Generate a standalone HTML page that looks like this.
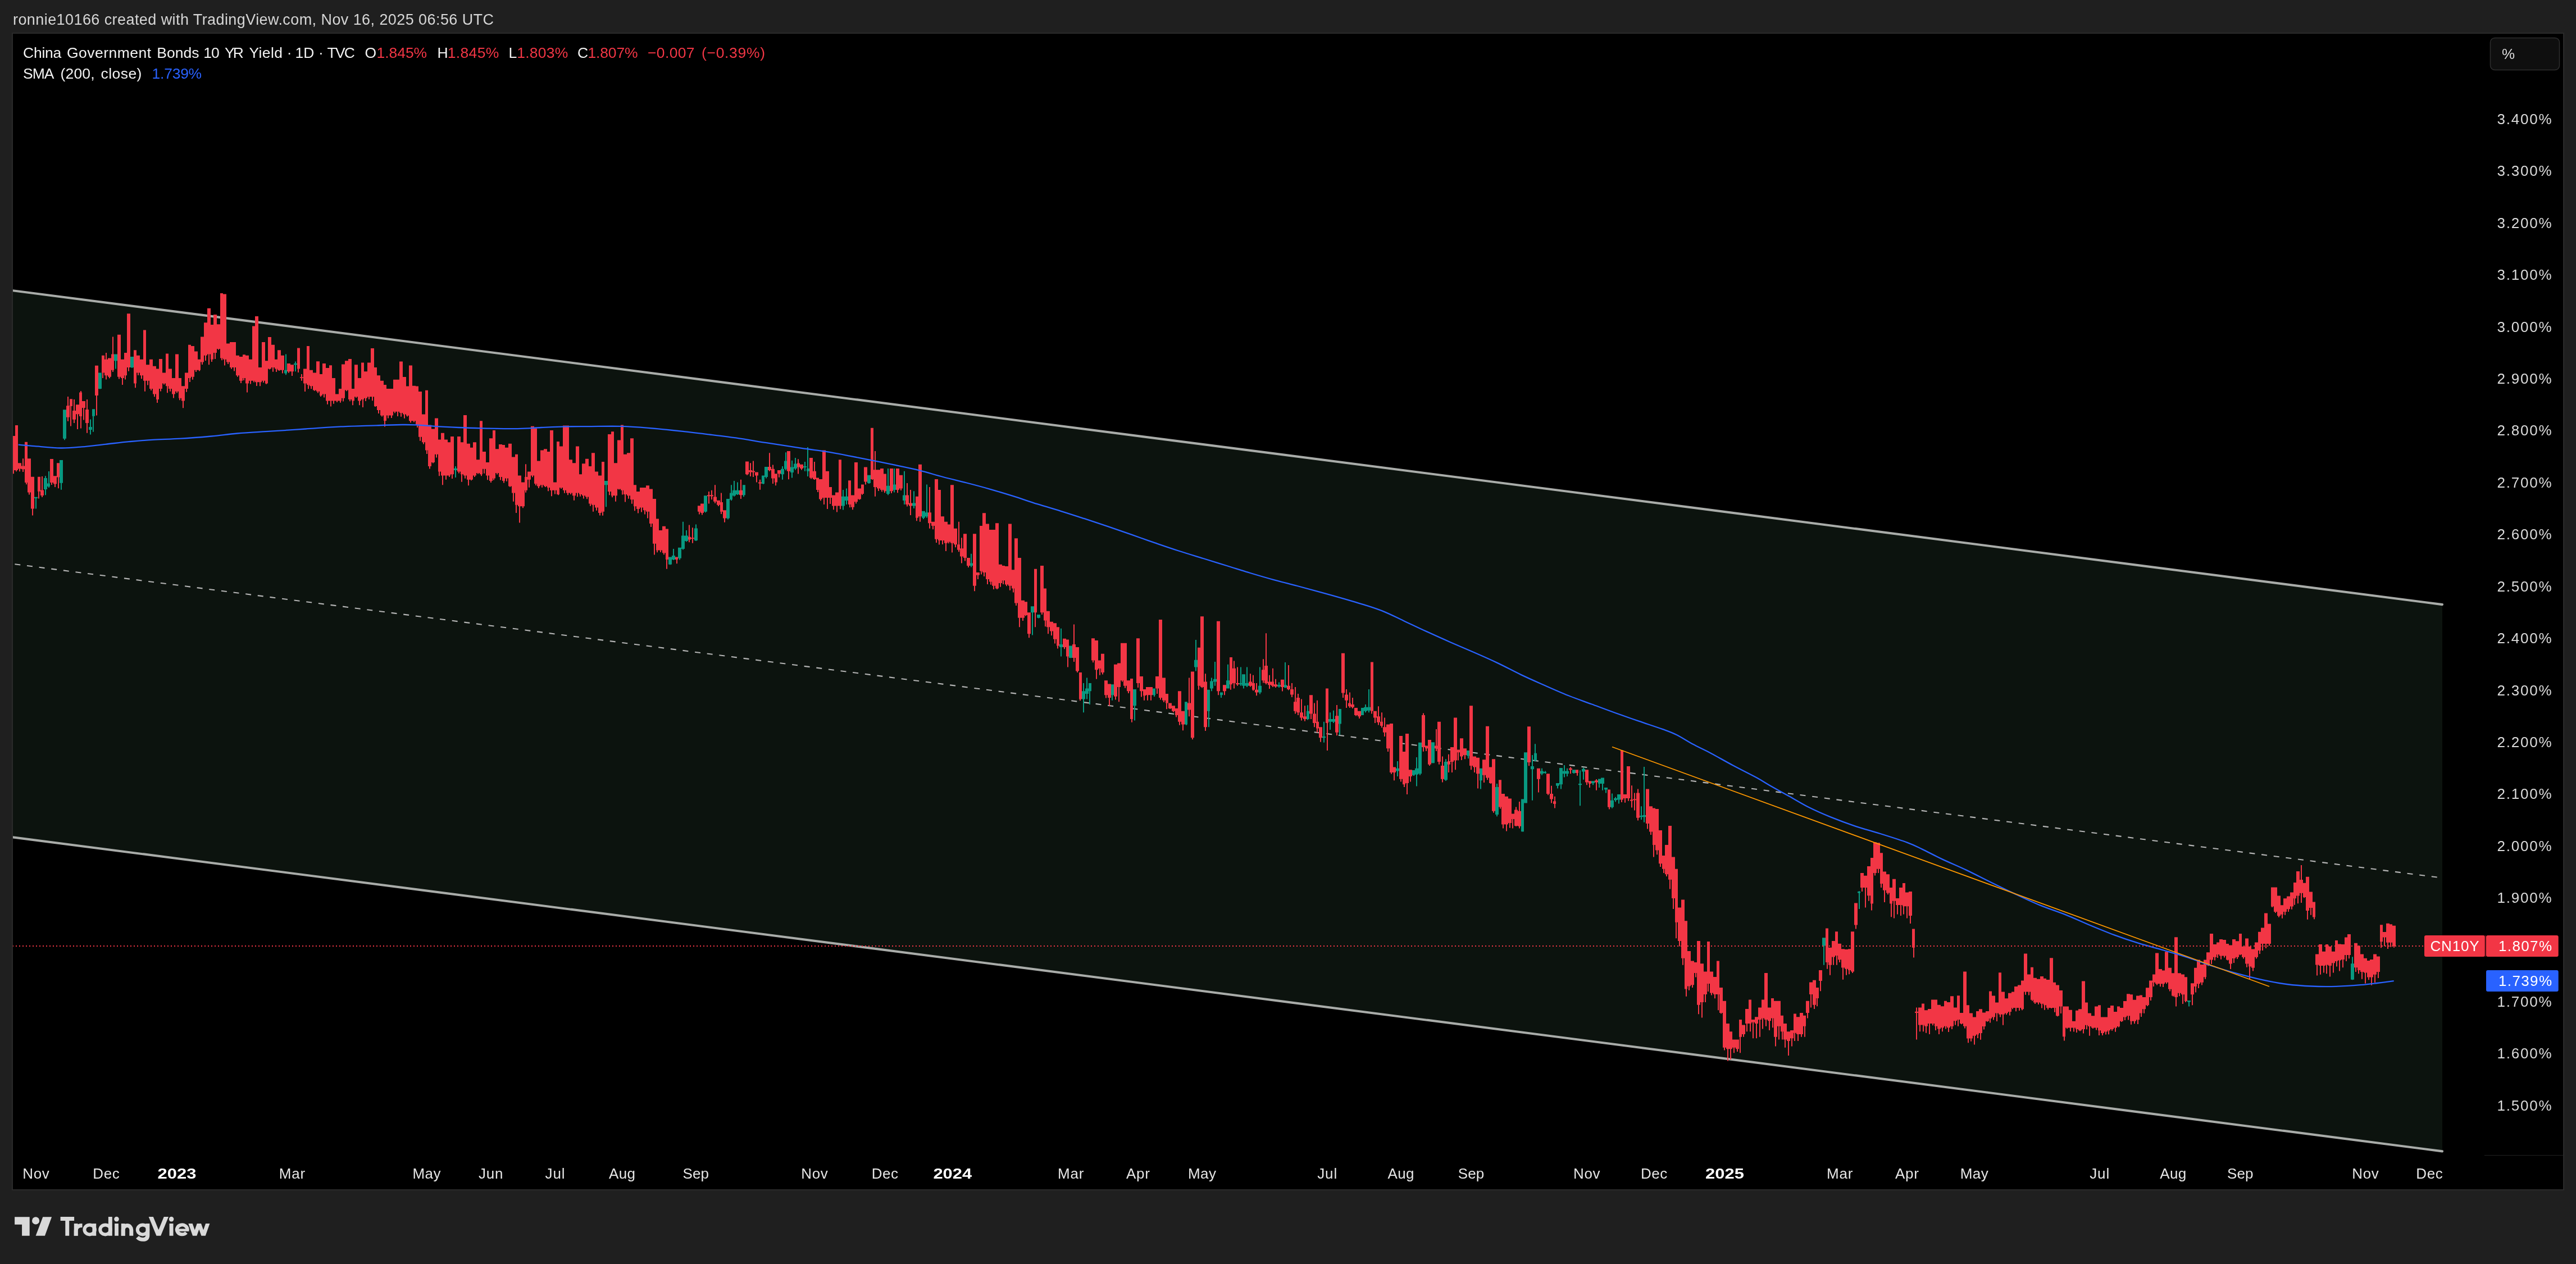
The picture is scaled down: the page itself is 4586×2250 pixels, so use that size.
<!DOCTYPE html>
<html><head><meta charset="utf-8"><title>CN10Y chart</title>
<style>
html,body{margin:0;padding:0;background:#1f1f1f;}
body{width:4586px;height:2250px;position:relative;overflow:hidden;font-family:"Liberation Sans",sans-serif;}
#chart{position:absolute;left:21px;top:58px;width:4540px;height:2057px;background:#000;border:2px solid #2a2a2a;}
</style></head><body>
<div id="chart"></div>
<svg width="4586" height="2250" viewBox="0 0 4586 2250" style="position:absolute;left:0;top:0;will-change:transform"><defs><clipPath id="cc"><rect x="23" y="60" width="4540" height="2057"/></clipPath></defs><g clip-path="url(#cc)"><path d="M22 517.1L4348 1076.1L4348 2049.4L22 1490.2Z" fill="#0c130e"/><path d="M22 517.1L4348 1076.1M22 1490.2L4348 2049.4" stroke="#a9aca9" stroke-width="4.1" stroke-linecap="round" fill="none"/><path d="M22 1003.65L4348 1562.75" stroke="#b4b4b4" stroke-width="2.1" stroke-dasharray="10 11.8" stroke-dashoffset="-4.4" fill="none"/><path d="M23 775.9H27V836.9H23ZM27 757.0H32V836.9H27ZM32 824.2H38V834.5H32ZM38 829.4H44V835.3H38ZM44 786.7H49V859.0H44ZM49 816.3H55V876.4H49ZM55 848.7H61V905.5H55ZM67 848.7H72V874.8H67ZM72 872.5H78V882.0H72ZM89 817.1H95V859.0H89ZM95 847.2H101V861.4H95ZM101 824.2H106V849.5H101ZM118 722.2H124V742.7H118ZM124 710.3H129V722.9H124ZM129 730.9H135V746.7H129ZM135 720.3H141V737.2H135ZM141 698.4H146V741.1H141ZM146 713.9H152V726.1H146ZM152 729.0H158V753.0H152ZM169 650.8H175V703.9H169ZM181 632.7H186V663.6H181ZM186 639.8H192V668.3H186ZM192 637.5H198V670.7H192ZM198 630.4H203V658.8H198ZM209 595.7H215V670.7H209ZM215 639.8H221V673.1H215ZM221 628.0H226V668.3H221ZM226 558.2H232V654.1H226ZM238 623.2H243V682.6H238ZM243 632.7H249V663.6H243ZM249 639.8H255V668.3H249ZM255 587.6H260V677.8H255ZM260 649.3H266V677.8H260ZM266 639.8H272V692.1H266ZM272 651.7H278V701.5H272ZM278 656.5H283V711.0H278ZM283 638.9H289V692.1H283ZM289 663.6H295V682.6H289ZM295 629.4H300V687.3H295ZM300 656.5H306V692.1H300ZM306 673.1H312V701.5H306ZM312 630.4H318V696.8H312ZM318 673.1H323V708.7H318ZM323 687.3H329V713.4H323ZM329 663.6H335V692.1H329ZM335 613.7H340V673.1H335ZM340 616.1H346V670.7H340ZM346 625.6H352V658.8H346ZM352 639.8H357V658.8H352ZM357 599.5H363V644.6H357ZM363 574.3H369V632.7H363ZM369 548.7H375V630.4H369ZM375 578.1H380V639.8H375ZM380 560.1H386V628.0H380ZM386 577.2H392V620.9H386ZM392 522.1H397V637.5H392ZM397 523.6H403V639.8H397ZM403 611.4H409V644.6H403ZM409 609.0H415V654.1H409ZM415 609.0H420V654.1H415ZM420 632.7H426V668.3H420ZM426 635.1H432V677.8H426ZM432 631.3H437V673.1H432ZM437 632.7H443V682.6H437ZM443 639.8H449V677.8H443ZM449 580.5H454V677.8H449ZM454 563.0H460V680.2H454ZM460 654.1H466V680.2H460ZM466 609.0H472V677.8H466ZM472 642.2H477V682.6H472ZM477 600.0H483V656.5H477ZM483 613.7H489V654.1H483ZM489 639.8H494V656.5H489ZM494 623.2H500V658.8H494ZM500 632.7H506V658.8H500ZM511 647.0H517V661.2H511ZM517 649.3H523V661.2H517ZM529 619.4H534V656.5H529ZM534 671.2H540V673.1H534ZM540 656.5H546V682.6H540ZM546 616.1H551V684.9H546ZM551 658.8H557V687.3H551ZM557 663.6H563V694.4H557ZM563 643.2H569V696.8H563ZM569 665.9H574V703.9H569ZM574 647.0H580V701.5H574ZM580 655.0H586V713.4H580ZM586 650.3H591V713.4H586ZM591 673.1H597V713.4H591ZM597 701.5H603V713.4H597ZM603 692.1H608V713.4H603ZM608 648.4H614V708.7H608ZM614 642.2H620V694.4H614ZM620 638.9H626V711.0H620ZM626 692.1H631V713.4H626ZM631 649.3H637V706.3H631ZM637 673.1H643V713.4H637ZM643 645.5H648V711.0H643ZM648 661.2H654V708.7H648ZM654 645.5H660V706.3H654ZM660 619.9H666V706.3H660ZM666 654.1H671V722.9H666ZM671 668.3H677V730.0H671ZM677 677.8H683V739.5H677ZM683 684.9H688V749.0H683ZM688 692.1H694V739.5H688ZM694 692.1H700V739.5H694ZM700 675.8H705V732.7H700ZM705 675.8H711V732.7H705ZM711 643.5H717V735.1H711ZM717 671.0H723V737.5H717ZM723 687.6H728V739.8H723ZM728 650.6H734V749.3H728ZM734 686.7H740V749.3H734ZM740 687.6H745V756.5H740ZM745 697.1H751V777.8H745ZM751 737.5H757V787.3H751ZM757 694.8H762V801.5H757ZM762 756.5H768V830.0H762ZM768 763.6H774V822.9H768ZM774 744.6H780V808.7H774ZM780 782.6H785V839.5H780ZM785 770.7H791V846.6H785ZM791 782.6H797V846.6H791ZM797 787.3H802V846.6H797ZM802 776.9H808V844.3H802ZM814 776.9H820V839.5H814ZM820 787.3H825V844.3H820ZM825 738.9H831V846.6H825ZM831 789.7H837V853.7H831ZM837 796.8H842V853.7H837ZM842 787.3H848V846.6H842ZM848 818.2H854V841.9H848ZM854 749.3H859V844.3H854ZM859 803.9H865V834.8H859ZM865 822.9H871V846.6H865ZM871 780.2H877V856.1H871ZM877 765.9H882V851.4H877ZM882 799.2H888V841.9H882ZM888 791.1H894V849.0H888ZM894 792.1H899V856.1H894ZM899 796.8H905V851.4H899ZM905 789.7H911V865.6H905ZM911 813.4H917V877.5H911ZM917 808.7H922V898.8H917ZM922 846.6H928V901.2H922ZM928 858.5H934V901.2H928ZM934 849.0H939V872.7H934ZM939 839.5H945V853.7H939ZM945 758.8H951V846.6H945ZM951 762.6H956V860.9H951ZM956 820.5H962V865.6H956ZM962 801.5H968V863.2H962ZM968 799.2H974V865.6H968ZM974 803.9H979V868.0H974ZM979 765.9H985V872.7H979ZM985 858.5H991V872.7H985ZM991 785.9H996V879.9H991ZM996 794.4H1002V868.0H996ZM1002 757.4H1008V872.7H1002ZM1008 757.4H1013V877.5H1008ZM1013 818.2H1019V877.5H1013ZM1019 824.3H1025V882.2H1019ZM1025 794.4H1031V877.5H1025ZM1031 844.3H1036V879.9H1031ZM1036 825.3H1042V882.2H1036ZM1042 816.7H1048V884.6H1042ZM1048 830.0H1053V896.5H1048ZM1053 806.3H1059V898.8H1053ZM1059 839.5H1065V903.6H1059ZM1065 846.6H1071V913.1H1065ZM1071 822.0H1076V910.7H1071ZM1082 773.1H1088V875.1H1082ZM1088 768.3H1093V882.2H1088ZM1093 824.3H1099V882.2H1093ZM1099 783.5H1105V870.4H1099ZM1105 756.5H1110V872.7H1105ZM1110 808.7H1116V879.9H1110ZM1116 806.3H1122V882.2H1116ZM1122 780.2H1128V889.3H1122ZM1128 863.2H1133V901.2H1128ZM1133 875.1H1139V906.0H1133ZM1139 868.0H1145V903.6H1139ZM1145 868.0H1150V908.3H1145ZM1150 864.2H1156V910.7H1150ZM1156 870.4H1162V932.1H1156ZM1162 887.9H1168V967.7H1162ZM1168 923.5H1173V979.5H1168ZM1173 943.9H1179V979.5H1173ZM1179 936.8H1185V984.3H1179ZM1185 941.6H1190V996.1H1185ZM1202 991.4H1207V996.1H1202ZM1225 955.8H1230V960.5H1225ZM1230 957.2H1236V959.1H1230ZM1242 900.3H1247V910.7H1242ZM1247 896.5H1253V913.1H1247ZM1259 881.3H1264V883.2H1259ZM1264 881.3H1270V883.2H1264ZM1270 884.6H1276V892.7H1270ZM1276 890.8H1282V898.8H1276ZM1282 894.1H1287V910.7H1282ZM1287 908.3H1293V922.6H1287ZM1316 872.7H1322V881.3H1316ZM1327 821.5H1333V844.3H1327ZM1333 837.1H1339V840.5H1333ZM1339 838.6H1344V840.5H1339ZM1344 840.5H1350V846.6H1344ZM1350 858.5H1356V860.4H1350ZM1367 831.0H1373V837.1H1367ZM1373 834.8H1379V851.4H1373ZM1379 843.3H1384V858.5H1379ZM1384 837.1H1390V843.3H1384ZM1401 803.1H1407V838.7H1401ZM1419 824.4H1424V831.5H1419ZM1424 826.8H1430V833.9H1424ZM1441 814.9H1447V850.5H1441ZM1447 838.7H1453V852.9H1447ZM1453 850.5H1458V871.9H1453ZM1458 852.9H1464V888.5H1458ZM1464 801.6H1470V886.1H1464ZM1470 838.7H1476V886.1H1470ZM1476 867.1H1481V886.1H1476ZM1481 881.4H1487V900.4H1481ZM1487 876.6H1493V900.4H1487ZM1493 818.2H1498V900.4H1493ZM1510 855.3H1515V898.0H1510ZM1515 881.4H1521V902.7H1515ZM1521 823.0H1527V893.2H1521ZM1527 869.5H1533V888.5H1527ZM1533 862.4H1538V879.0H1533ZM1538 831.5H1544V857.6H1538ZM1550 761.8H1555V852.9H1550ZM1555 836.3H1561V867.1H1555ZM1561 836.3H1567V869.5H1561ZM1567 833.9H1573V871.9H1567ZM1573 843.4H1578V874.2H1573ZM1584 833.9H1590V874.2H1584ZM1595 833.9H1601V871.9H1595ZM1601 845.8H1607V869.5H1601ZM1612 881.4H1618V898.0H1612ZM1618 895.6H1624V900.4H1618ZM1630 883.7H1635V921.7H1630ZM1635 826.8H1641V919.3H1635ZM1652 912.2H1658V931.2H1652ZM1658 928.8H1664V935.9H1658ZM1664 852.9H1670V959.7H1664ZM1670 871.9H1675V962.1H1670ZM1675 919.3H1681V962.1H1675ZM1681 928.8H1687V966.8H1681ZM1687 933.6H1692V964.4H1687ZM1692 863.3H1698V966.8H1692ZM1698 940.7H1704V969.2H1698ZM1704 969.2H1709V978.7H1704ZM1709 976.3H1715V990.5H1709ZM1715 950.2H1721V992.9H1715ZM1721 992.9H1727V1007.1H1721ZM1732 950.2H1738V1042.7H1732ZM1738 1019.0H1744V1023.7H1738ZM1744 935.9H1749V1016.6H1744ZM1749 913.2H1755V1019.0H1749ZM1755 932.6H1761V1030.9H1755ZM1761 943.1H1766V1035.6H1761ZM1766 943.1H1772V1042.7H1766ZM1772 931.2H1778V1047.5H1772ZM1778 1004.8H1784V1038.0H1778ZM1784 1007.1H1789V1033.2H1784ZM1789 1008.1H1795V1040.4H1789ZM1795 932.6H1801V1042.7H1795ZM1801 1014.3H1806V1047.5H1801ZM1806 958.3H1812V1073.6H1806ZM1812 992.9H1818V1099.7H1812ZM1818 1068.8H1824V1099.7H1818ZM1824 1071.2H1829V1094.9H1824ZM1829 1090.2H1835V1128.2H1829ZM1841 1012.8H1846V1090.2H1841ZM1852 1007.1H1858V1090.2H1852ZM1858 1047.5H1863V1104.4H1858ZM1863 1087.8H1869V1116.3H1863ZM1869 1106.8H1875V1123.4H1869ZM1875 1109.2H1881V1137.7H1875ZM1881 1116.3H1886V1149.5H1881ZM1892 1136.7H1898V1151.9H1892ZM1898 1138.6H1903V1168.5H1898ZM1909 1147.1H1915V1170.9H1909ZM1915 1151.9H1921V1194.6H1915ZM1921 1197.0H1926V1244.4H1921ZM1943 1136.2H1949V1175.6H1943ZM1949 1140.0H1955V1192.2H1949ZM1955 1175.6H1960V1189.9H1955ZM1960 1163.8H1966V1197.0H1960ZM1966 1211.2H1972V1237.3H1966ZM1972 1217.4H1978V1242.1H1972ZM1983 1182.7H1989V1239.7H1983ZM1989 1180.4H1995V1223.1H1989ZM1995 1144.8H2000V1211.2H1995ZM2000 1144.8H2006V1220.7H2000ZM2006 1211.2H2012V1230.2H2006ZM2012 1207.9H2017V1280.0H2012ZM2023 1136.2H2029V1216.0H2023ZM2029 1204.1H2035V1230.2H2029ZM2035 1226.9H2040V1238.3H2035ZM2040 1223.1H2046V1237.3H2040ZM2046 1223.1H2052V1237.3H2046ZM2057 1204.1H2063V1225.5H2057ZM2063 1103.0H2069V1242.1H2063ZM2069 1206.5H2075V1246.8H2069ZM2075 1235.0H2080V1251.6H2075ZM2080 1251.6H2086V1261.1H2080ZM2086 1256.3H2092V1265.8H2086ZM2092 1261.1H2097V1272.9H2092ZM2097 1230.2H2103V1284.8H2097ZM2103 1265.8H2109V1289.5H2103ZM2114 1251.5H2120V1263.4H2114ZM2120 1195.5H2126V1313.2H2120ZM2132 1152.8H2137V1220.7H2132ZM2137 1097.3H2143V1223.1H2137ZM2143 1213.6H2149V1294.3H2143ZM2166 1105.8H2172V1230.2H2166ZM2177 1219.3H2183V1230.2H2177ZM2189 1169.9H2194V1218.3H2189ZM2194 1189.8H2200V1215.9H2194ZM2200 1215.9H2206V1218.3H2200ZM2223 1213.6H2229V1220.7H2223ZM2229 1215.9H2234V1227.8H2229ZM2234 1227.8H2240V1232.6H2234ZM2246 1192.2H2251V1211.2H2246ZM2251 1185.1H2257V1215.9H2251ZM2257 1213.6H2263V1219.3H2257ZM2263 1213.6H2268V1220.7H2263ZM2268 1218.3H2274V1222.1H2268ZM2280 1209.8H2286V1223.1H2280ZM2291 1220.7H2297V1226.9H2291ZM2297 1226.9H2303V1236.4H2297ZM2303 1249.2H2308V1265.8H2303ZM2308 1242.1H2314V1268.2H2308ZM2314 1268.2H2320V1277.6H2314ZM2320 1275.3H2326V1280.0H2320ZM2331 1237.3H2337V1270.5H2331ZM2337 1270.5H2343V1287.1H2337ZM2343 1284.8H2348V1296.6H2343ZM2348 1294.3H2354V1313.2H2348ZM2360 1225.4H2365V1287.1H2360ZM2377 1274.3H2383V1303.7H2377ZM2388 1162.8H2394V1233.5H2388ZM2394 1236.4H2400V1246.8H2394ZM2400 1251.5H2405V1257.2H2400ZM2405 1253.9H2411V1258.7H2405ZM2411 1260.1H2417V1272.9H2411ZM2417 1265.8H2423V1275.3H2417ZM2440 1178.5H2445V1265.8H2440ZM2445 1265.8H2451V1277.6H2445ZM2451 1275.3H2457V1285.7H2451ZM2457 1284.8H2462V1291.9H2457ZM2462 1294.3H2468V1303.7H2462ZM2468 1289.5H2474V1332.2H2468ZM2474 1288.1H2480V1374.9H2474ZM2480 1365.4H2485V1374.9H2480ZM2491 1309.9H2497V1386.8H2491ZM2497 1337.9H2502V1396.3H2497ZM2502 1306.1H2508V1393.9H2502ZM2508 1370.2H2514V1382.1H2508ZM2531 1272.9H2537V1329.9H2531ZM2537 1327.5H2542V1332.2H2537ZM2542 1317.0H2548V1360.7H2542ZM2554 1327.5H2559V1332.2H2554ZM2559 1284.8H2565V1356.0H2559ZM2565 1363.1H2571V1386.8H2565ZM2577 1355.0H2582V1360.7H2577ZM2582 1329.9H2588V1356.0H2582ZM2588 1277.6H2594V1353.6H2588ZM2594 1334.6H2599V1339.3H2594ZM2599 1314.2H2605V1346.5H2599ZM2605 1332.2H2611V1344.1H2605ZM2616 1256.3H2622V1363.1H2616ZM2622 1346.5H2628V1365.4H2622ZM2628 1348.8H2634V1377.3H2628ZM2639 1352.2H2645V1379.7H2639ZM2645 1292.8H2651V1384.4H2645ZM2651 1365.4H2656V1393.9H2651ZM2656 1351.2H2662V1443.8H2656ZM2668 1388.2H2673V1436.6H2668ZM2673 1412.9H2679V1467.5H2673ZM2679 1417.7H2685V1467.5H2679ZM2685 1421.5H2691V1465.1H2685ZM2691 1448.5H2696V1458.0H2691ZM2696 1441.4H2702V1469.9H2696ZM2702 1443.8H2708V1470.8H2702ZM2719 1293.3H2725V1356.9H2719ZM2736 1367.8H2742V1386.8H2736ZM2753 1377.3H2759V1412.9H2753ZM2759 1412.9H2765V1422.4H2759ZM2765 1426.2H2770V1430.9H2765ZM2793 1367.8H2799V1370.2H2793ZM2805 1370.2H2810V1375.9H2805ZM2822 1370.2H2828V1392.5H2822ZM2828 1390.2H2833V1394.9H2828ZM2839 1389.2H2845V1392.5H2839ZM2862 1405.4H2867V1436.7H2862ZM2885 1335.6H2890V1423.4H2885ZM2890 1413.9H2896V1421.0H2890ZM2896 1364.1H2902V1421.0H2896ZM2902 1423.4H2907V1425.8H2902ZM2907 1422.4H2913V1424.3H2907ZM2913 1411.5H2919V1455.7H2913ZM2930 1404.4H2936V1466.1H2930ZM2936 1435.3H2942V1480.4H2936ZM2942 1438.6H2947V1504.1H2942ZM2947 1440.0H2953V1513.6H2947ZM2953 1478.0H2959V1537.3H2953ZM2959 1523.1H2964V1546.8H2959ZM2964 1504.1H2970V1556.3H2964ZM2970 1469.9H2976V1565.8H2970ZM2976 1525.4H2982V1599.0H2976ZM2982 1546.8H2987V1641.7H2982ZM2987 1615.6H2993V1674.9H2987ZM2993 1601.4H2999V1705.8H2993ZM2999 1639.3H3004V1760.4H2999ZM3004 1693.0H3010V1755.6H3004ZM3010 1710.5H3016V1753.3H3010ZM3016 1712.9H3021V1731.9H3016ZM3021 1674.9H3027V1788.8H3021ZM3027 1715.3H3033V1784.1H3027ZM3033 1729.5H3039V1769.9H3033ZM3039 1675.9H3044V1750.9H3039ZM3044 1729.5H3050V1767.5H3044ZM3050 1739.0H3056V1769.9H3050ZM3056 1710.5H3061V1769.9H3056ZM3061 1758.0H3067V1803.1H3061ZM3067 1781.7H3073V1864.8H3067ZM3073 1822.1H3079V1867.2H3073ZM3079 1836.3H3084V1867.2H3079ZM3084 1850.5H3090V1864.8H3084ZM3090 1850.5H3096V1867.2H3090ZM3096 1815.0H3101V1845.8H3096ZM3101 1824.4H3107V1841.1H3101ZM3107 1796.0H3113V1822.1H3107ZM3113 1779.4H3118V1822.1H3113ZM3118 1815.0H3124V1819.7H3118ZM3124 1810.2H3130V1822.1H3124ZM3130 1793.6H3136V1815.0H3130ZM3136 1779.4H3141V1812.6H3136ZM3141 1731.9H3147V1815.0H3141ZM3147 1793.6H3153V1817.3H3147ZM3153 1777.0H3158V1812.6H3153ZM3158 1781.7H3164V1845.8H3158ZM3164 1781.7H3170V1826.8H3164ZM3170 1807.8H3175V1836.3H3170ZM3175 1822.1H3181V1850.5H3175ZM3181 1836.3H3187V1852.9H3181ZM3187 1833.9H3193V1848.2H3187ZM3193 1804.5H3198V1838.7H3193ZM3198 1810.2H3204V1841.1H3198ZM3204 1803.1H3210V1841.1H3204ZM3210 1807.8H3215V1826.8H3210ZM3215 1781.7H3221V1803.1H3215ZM3221 1748.5H3227V1769.9H3221ZM3227 1744.7H3233V1788.8H3227ZM3233 1758.0H3238V1777.0H3233ZM3238 1727.1H3244V1746.1H3238ZM3250 1652.6H3255V1712.9H3250ZM3255 1686.8H3261V1717.7H3255ZM3261 1674.9H3267V1703.4H3261ZM3267 1658.3H3272V1701.0H3267ZM3272 1679.7H3278V1708.2H3272ZM3278 1689.2H3284V1722.4H3278ZM3284 1690.1H3290V1724.8H3284ZM3290 1689.2H3295V1727.1H3290ZM3295 1658.3H3301V1729.5H3295ZM3301 1607.5H3307V1646.5H3301ZM3312 1553.9H3318V1580.0H3312ZM3318 1558.7H3324V1580.0H3318ZM3324 1542.1H3330V1594.3H3324ZM3330 1526.9H3335V1608.5H3330ZM3335 1499.3H3341V1553.9H3335ZM3341 1500.3H3347V1546.8H3341ZM3347 1518.3H3352V1572.9H3347ZM3352 1551.5H3358V1584.8H3352ZM3358 1556.3H3364V1589.5H3358ZM3364 1580.0H3369V1608.5H3364ZM3369 1564.8H3375V1603.7H3369ZM3375 1599.0H3381V1610.9H3375ZM3381 1580.0H3387V1610.9H3381ZM3387 1572.0H3392V1613.2H3387ZM3392 1588.6H3398V1613.2H3392ZM3398 1587.1H3404V1629.9H3398ZM3404 1653.6H3409V1686.8H3404ZM3409 1800.7H3415V1803.1H3409ZM3415 1793.6H3421V1824.4H3415ZM3421 1786.5H3426V1824.4H3421ZM3426 1798.3H3432V1826.8H3426ZM3432 1796.0H3438V1822.1H3432ZM3438 1779.4H3444V1822.1H3438ZM3444 1779.4H3449V1826.8H3444ZM3449 1788.8H3455V1831.6H3449ZM3455 1791.2H3461V1829.2H3455ZM3461 1781.7H3466V1826.8H3461ZM3466 1784.1H3472V1829.2H3466ZM3472 1773.2H3478V1826.8H3472ZM3478 1793.6H3484V1817.3H3478ZM3484 1772.2H3489V1815.0H3484ZM3489 1803.1H3495V1822.1H3489ZM3495 1729.5H3501V1826.8H3495ZM3501 1789.2H3506V1848.5H3501ZM3506 1803.4H3512V1848.5H3506ZM3512 1810.5H3518V1843.8H3512ZM3518 1800.1H3523V1841.4H3518ZM3523 1796.3H3529V1839.0H3523ZM3529 1802.5H3535V1827.1H3529ZM3535 1800.1H3541V1817.7H3535ZM3541 1764.5H3546V1812.9H3541ZM3546 1772.6H3552V1810.5H3546ZM3552 1784.4H3558V1803.4H3552ZM3558 1731.3H3563V1805.8H3558ZM3563 1765.4H3569V1805.8H3563ZM3569 1777.3H3575V1803.4H3569ZM3575 1767.8H3581V1801.0H3575ZM3581 1765.4H3586V1793.9H3581ZM3586 1756.0H3592V1793.9H3586ZM3592 1753.6H3598V1793.9H3592ZM3598 1745.5H3603V1796.3H3598ZM3603 1697.6H3609V1765.4H3603ZM3609 1734.6H3615V1765.4H3609ZM3615 1721.8H3620V1779.7H3615ZM3620 1740.8H3626V1784.4H3620ZM3626 1742.7H3632V1784.4H3626ZM3632 1737.9H3638V1786.8H3632ZM3638 1741.7H3643V1789.2H3638ZM3643 1744.1H3649V1793.9H3643ZM3649 1705.2H3655V1793.9H3649ZM3655 1748.8H3660V1793.9H3655ZM3660 1753.6H3666V1808.2H3660ZM3666 1763.1H3672V1791.6H3666ZM3672 1791.6H3677V1845.2H3672ZM3677 1791.6H3683V1829.5H3677ZM3683 1797.7H3689V1829.5H3683ZM3689 1817.7H3695V1829.5H3689ZM3695 1798.7H3700V1831.9H3695ZM3700 1796.3H3706V1834.3H3700ZM3706 1746.5H3712V1831.9H3706ZM3712 1784.4H3717V1824.8H3712ZM3717 1803.4H3723V1827.1H3717ZM3723 1808.2H3729V1829.5H3723ZM3729 1791.6H3735V1829.5H3729ZM3735 1789.2H3740V1834.3H3735ZM3740 1810.5H3746V1839.0H3740ZM3746 1810.5H3752V1836.6H3746ZM3752 1793.9H3757V1834.3H3752ZM3757 1790.1H3763V1831.9H3757ZM3763 1801.0H3769V1829.5H3763ZM3769 1791.6H3774V1827.1H3769ZM3774 1793.9H3780V1817.7H3774ZM3780 1782.1H3786V1810.5H3780ZM3786 1769.2H3792V1808.2H3786ZM3792 1770.2H3797V1817.7H3792ZM3797 1779.7H3803V1817.7H3797ZM3803 1772.6H3809V1815.3H3803ZM3809 1771.6H3814V1803.4H3809ZM3814 1774.9H3820V1796.3H3814ZM3820 1758.3H3826V1789.2H3820ZM3826 1745.5H3832V1774.9H3826ZM3832 1734.6H3837V1748.8H3832ZM3837 1696.6H3843V1751.2H3837ZM3843 1725.1H3849V1751.2H3843ZM3849 1727.5H3854V1751.2H3849ZM3854 1694.3H3860V1748.8H3854ZM3860 1722.7H3866V1760.7H3860ZM3866 1732.2H3871V1772.6H3866ZM3871 1668.2H3877V1774.9H3871ZM3877 1732.2H3883V1767.8H3877ZM3883 1734.6H3889V1770.2H3883ZM3889 1739.3H3894V1782.1H3889ZM3900 1750.3H3906V1770.2H3900ZM3906 1722.7H3911V1756.0H3906ZM3911 1708.5H3917V1751.2H3911ZM3917 1717.0H3923V1748.8H3917ZM3923 1708.5H3928V1739.3H3923ZM3928 1695.2H3934V1718.0H3928ZM3934 1662.0H3940V1708.5H3934ZM3940 1681.0H3946V1703.7H3940ZM3946 1677.6H3951V1699.0H3946ZM3951 1672.0H3957V1701.4H3951ZM3957 1672.9H3963V1701.4H3957ZM3963 1680.0H3968V1708.5H3963ZM3968 1682.4H3974V1715.6H3968ZM3974 1672.0H3980V1706.1H3974ZM3980 1675.3H3986V1703.7H3980ZM3986 1662.0H3991V1699.0H3986ZM3991 1684.8H3997V1703.7H3991ZM3997 1670.5H4003V1715.6H3997ZM4003 1684.8H4008V1720.4H4003ZM4008 1689.5H4014V1722.7H4008ZM4014 1677.6H4020V1703.7H4014ZM4020 1658.7H4025V1691.9H4020ZM4025 1651.5H4031V1680.0H4025ZM4031 1625.4H4037V1680.0H4031ZM4037 1644.4H4043V1680.0H4037ZM4043 1579.4H4048V1613.6H4043ZM4048 1579.4H4054V1623.1H4048ZM4054 1594.6H4060V1630.2H4054ZM4060 1611.2H4065V1627.8H4060ZM4065 1599.3H4071V1623.1H4065ZM4071 1595.5H4077V1618.3H4071ZM4077 1588.4H4083V1613.6H4077ZM4083 1570.9H4088V1599.3H4083ZM4088 1550.9H4094V1594.6H4088ZM4094 1566.1H4100V1589.8H4094ZM4100 1571.8H4105V1597.0H4100ZM4105 1560.8H4111V1620.9H4105ZM4111 1587.5H4117V1615.9H4111ZM4117 1605.5H4122V1632.6H4117ZM4122 1698.4H4128V1717.4H4122ZM4128 1681.0H4134V1719.0H4128ZM4134 1693.7H4140V1719.0H4134ZM4140 1681.0H4145V1717.4H4140ZM4145 1684.8H4151V1719.0H4145ZM4151 1693.7H4157V1714.2H4151ZM4157 1674.1H4162V1711.1H4157ZM4162 1680.4H4168V1709.5H4162ZM4168 1681.0H4174V1707.9H4168ZM4174 1668.4H4179V1700.0H4174ZM4179 1663.0H4185V1700.0H4179ZM4191 1678.8H4197V1722.2H4191ZM4197 1683.5H4202V1726.9H4197ZM4202 1698.4H4208V1730.1H4202ZM4208 1705.7H4214V1731.6H4208ZM4214 1710.1H4219V1739.6H4214ZM4219 1707.9H4225V1739.6H4219ZM4225 1698.4H4231V1734.8H4225ZM4231 1702.5H4237V1730.1H4231ZM4237 1646.2H4242V1676.3H4237ZM4242 1658.9H4248V1668.4H4242ZM4248 1643.7H4254V1677.8H4248ZM4254 1645.3H4259V1677.8H4254ZM4259 1647.8H4265V1684.2H4259ZM23 775.9h2V843.2h-2ZM28 757.0h2V839.2h-2ZM34 824.2h2V839.2h-2ZM40 816.3h2V840.0h-2ZM46 786.7h2V862.2h-2ZM51 816.3h2V880.4h-2ZM57 848.7h2V917.6h-2ZM68 848.7h2V887.5h-2ZM74 847.9h2V885.1h-2ZM91 817.1h2V863.0h-2ZM97 847.2h2V866.9h-2ZM103 824.2h2V869.3h-2ZM120 706.0h2V749.8h-2ZM125 710.3h2V758.5h-2ZM131 711.1h2V753.0h-2ZM137 720.3h2V764.1h-2ZM143 696.0h2V762.5h-2ZM148 713.9h2V747.5h-2ZM154 711.1h2V770.8h-2ZM171 650.8h2V739.5h-2ZM182 632.7h2V673.1h-2ZM188 628.0h2V675.4h-2ZM194 637.5h2V673.2h-2ZM200 599.5h2V661.9h-2ZM211 595.7h2V674.6h-2ZM217 639.8h2V684.9h-2ZM222 628.0h2V675.5h-2ZM228 558.2h2V660.8h-2ZM240 623.2h2V690.3h-2ZM245 632.7h2V668.0h-2ZM251 639.8h2V674.2h-2ZM257 587.6h2V696.8h-2ZM262 649.3h2V685.4h-2ZM268 639.8h2V694.9h-2ZM274 651.7h2V706.3h-2ZM279 656.5h2V717.1h-2ZM285 638.9h2V696.5h-2ZM291 663.6h2V684.6h-2ZM297 629.4h2V699.3h-2ZM302 656.5h2V696.8h-2ZM308 673.1h2V708.5h-2ZM314 630.4h2V699.5h-2ZM319 673.1h2V712.3h-2ZM325 687.3h2V726.3h-2ZM331 663.6h2V697.8h-2ZM337 613.7h2V680.0h-2ZM342 616.1h2V675.7h-2ZM348 625.6h2V661.9h-2ZM354 639.8h2V660.5h-2ZM359 599.5h2V649.1h-2ZM365 574.3h2V641.9h-2ZM371 548.7h2V649.3h-2ZM376 578.1h2V644.0h-2ZM382 560.1h2V638.9h-2ZM388 577.2h2V622.4h-2ZM394 522.1h2V641.2h-2ZM399 523.6h2V650.4h-2ZM405 611.4h2V648.1h-2ZM411 609.0h2V656.8h-2ZM416 609.0h2V660.4h-2ZM422 632.7h2V670.7h-2ZM428 635.1h2V682.1h-2ZM433 631.3h2V676.9h-2ZM439 632.7h2V698.4h-2ZM445 639.8h2V683.4h-2ZM451 580.5h2V680.4h-2ZM456 563.0h2V687.1h-2ZM462 654.1h2V687.3h-2ZM468 609.0h2V680.9h-2ZM473 642.2h2V683.7h-2ZM479 600.0h2V657.5h-2ZM485 613.7h2V661.7h-2ZM491 639.8h2V662.0h-2ZM496 623.2h2V659.9h-2ZM502 632.7h2V664.6h-2ZM513 647.0h2V663.7h-2ZM519 649.3h2V668.9h-2ZM530 619.4h2V662.9h-2ZM536 665.9h2V677.8h-2ZM542 656.5h2V697.1h-2ZM548 616.1h2V692.3h-2ZM553 658.8h2V692.3h-2ZM559 663.6h2V695.7h-2ZM565 643.2h2V699.4h-2ZM570 665.9h2V705.9h-2ZM576 647.0h2V707.4h-2ZM582 655.0h2V719.7h-2ZM588 650.3h2V723.5h-2ZM593 673.1h2V718.8h-2ZM599 701.5h2V715.9h-2ZM605 692.1h2V716.8h-2ZM610 648.4h2V714.6h-2ZM616 642.2h2V696.3h-2ZM622 638.9h2V714.3h-2ZM627 692.1h2V721.3h-2ZM633 649.3h2V708.1h-2ZM639 673.1h2V721.2h-2ZM645 645.5h2V725.1h-2ZM650 661.2h2V713.9h-2ZM656 645.5h2V710.8h-2ZM662 619.9h2V713.2h-2ZM667 654.1h2V724.1h-2ZM673 668.3h2V735.9h-2ZM679 677.8h2V741.5h-2ZM684 684.9h2V759.4h-2ZM690 692.1h2V744.6h-2ZM696 692.1h2V743.9h-2ZM702 675.8h2V735.2h-2ZM707 675.8h2V741.0h-2ZM713 643.5h2V741.8h-2ZM719 671.0h2V744.7h-2ZM724 687.6h2V741.5h-2ZM730 650.6h2V752.3h-2ZM736 686.7h2V751.6h-2ZM742 687.6h2V761.0h-2ZM747 697.1h2V784.7h-2ZM753 737.5h2V790.4h-2ZM759 694.8h2V807.9h-2ZM764 756.5h2V834.5h-2ZM770 763.6h2V824.6h-2ZM776 744.6h2V814.5h-2ZM781 782.6h2V847.2h-2ZM787 770.7h2V863.2h-2ZM793 782.6h2V853.7h-2ZM799 787.3h2V849.1h-2ZM804 776.9h2V851.9h-2ZM816 776.9h2V842.5h-2ZM821 787.3h2V857.7h-2ZM827 738.9h2V851.7h-2ZM833 789.7h2V864.2h-2ZM838 796.8h2V855.3h-2ZM844 787.3h2V849.1h-2ZM850 818.2h2V843.7h-2ZM856 749.3h2V847.2h-2ZM861 803.9h2V842.7h-2ZM867 822.9h2V854.2h-2ZM873 780.2h2V858.9h-2ZM878 765.9h2V854.6h-2ZM884 799.2h2V844.5h-2ZM890 791.1h2V854.4h-2ZM896 792.1h2V859.4h-2ZM901 796.8h2V856.7h-2ZM907 789.7h2V866.8h-2ZM913 813.4h2V892.8h-2ZM918 808.7h2V913.1h-2ZM924 846.6h2V930.6h-2ZM930 858.5h2V904.3h-2ZM935 826.2h2V876.7h-2ZM941 839.5h2V867.8h-2ZM947 758.8h2V849.3h-2ZM953 762.6h2V864.1h-2ZM958 820.5h2V869.1h-2ZM964 801.5h2V867.7h-2ZM970 799.2h2V866.9h-2ZM975 803.9h2V874.2h-2ZM981 765.9h2V883.2h-2ZM987 858.5h2V879.5h-2ZM993 785.9h2V881.3h-2ZM998 794.4h2V869.9h-2ZM1004 757.4h2V877.8h-2ZM1010 757.4h2V881.3h-2ZM1015 818.2h2V880.1h-2ZM1021 824.3h2V890.8h-2ZM1027 794.4h2V884.2h-2ZM1032 844.3h2V883.8h-2ZM1038 825.3h2V887.6h-2ZM1044 816.7h2V888.3h-2ZM1050 830.0h2V900.8h-2ZM1055 806.3h2V910.8h-2ZM1061 839.5h2V908.7h-2ZM1067 846.6h2V917.4h-2ZM1072 822.0h2V917.8h-2ZM1084 773.1h2V881.3h-2ZM1089 768.3h2V885.3h-2ZM1095 824.3h2V892.7h-2ZM1101 783.5h2V871.5h-2ZM1107 756.5h2V880.5h-2ZM1112 808.7h2V893.4h-2ZM1118 806.3h2V887.8h-2ZM1124 780.2h2V896.7h-2ZM1129 863.2h2V909.3h-2ZM1135 875.1h2V913.5h-2ZM1141 868.0h2V911.4h-2ZM1147 868.0h2V915.4h-2ZM1152 864.2h2V922.6h-2ZM1158 870.4h2V938.1h-2ZM1164 887.9h2V987.6h-2ZM1169 923.5h2V983.2h-2ZM1175 943.9h2V983.1h-2ZM1181 936.8h2V987.3h-2ZM1186 941.6h2V1012.7h-2ZM1204 991.4h2V1003.2h-2ZM1226 934.4h2V965.3h-2ZM1232 939.2h2V966.7h-2ZM1244 900.3h2V915.4h-2ZM1249 896.5h2V916.4h-2ZM1261 875.1h2V896.5h-2ZM1266 872.7h2V889.3h-2ZM1272 863.2h2V895.8h-2ZM1278 890.8h2V900.9h-2ZM1283 877.5h2V915.0h-2ZM1289 908.3h2V929.7h-2ZM1318 853.7h2V887.9h-2ZM1329 821.5h2V845.8h-2ZM1335 824.3h2V848.1h-2ZM1340 820.5h2V849.0h-2ZM1346 840.5h2V858.5h-2ZM1352 853.7h2V871.8h-2ZM1369 806.3h2V838.8h-2ZM1375 827.6h2V860.9h-2ZM1380 843.3h2V864.2h-2ZM1386 837.1h2V849.8h-2ZM1403 803.1h2V853.2h-2ZM1420 817.3h2V843.4h-2ZM1426 826.8h2V836.4h-2ZM1443 814.9h2V852.4h-2ZM1449 822.0h2V853.9h-2ZM1455 850.5h2V876.0h-2ZM1460 852.9h2V891.2h-2ZM1466 801.6h2V898.0h-2ZM1472 838.7h2V906.0h-2ZM1477 867.1h2V897.0h-2ZM1483 881.4h2V907.2h-2ZM1489 876.6h2V911.6h-2ZM1495 818.2h2V906.2h-2ZM1512 855.3h2V903.2h-2ZM1517 881.4h2V907.2h-2ZM1523 823.0h2V896.4h-2ZM1529 869.5h2V889.6h-2ZM1534 862.4h2V880.7h-2ZM1540 831.5h2V862.6h-2ZM1552 761.8h2V853.9h-2ZM1557 803.1h2V883.7h-2ZM1563 836.3h2V874.1h-2ZM1569 833.9h2V875.3h-2ZM1574 843.4h2V877.3h-2ZM1586 833.9h2V878.1h-2ZM1597 833.9h2V877.3h-2ZM1603 845.8h2V873.1h-2ZM1614 860.0h2V901.4h-2ZM1620 871.9h2V917.0h-2ZM1631 883.7h2V927.3h-2ZM1637 826.8h2V928.8h-2ZM1654 867.1h2V940.7h-2ZM1660 928.8h2V942.3h-2ZM1666 852.9h2V966.0h-2ZM1671 871.9h2V969.4h-2ZM1677 919.3h2V969.1h-2ZM1683 928.8h2V981.0h-2ZM1688 933.6h2V967.2h-2ZM1694 863.3h2V983.4h-2ZM1700 940.7h2V974.2h-2ZM1706 928.8h2V982.2h-2ZM1711 957.3h2V1002.4h-2ZM1717 950.2h2V998.6h-2ZM1723 992.9h2V1009.9h-2ZM1734 950.2h2V1052.2h-2ZM1740 1019.0h2V1030.9h-2ZM1746 935.9h2V1022.6h-2ZM1751 913.2h2V1026.1h-2ZM1757 932.6h2V1039.9h-2ZM1763 943.1h2V1040.7h-2ZM1768 943.1h2V1049.1h-2ZM1774 931.2h2V1048.9h-2ZM1780 1004.8h2V1044.7h-2ZM1785 1007.1h2V1040.0h-2ZM1791 1008.1h2V1043.2h-2ZM1797 932.6h2V1050.7h-2ZM1803 1014.3h2V1054.4h-2ZM1808 958.3h2V1078.1h-2ZM1814 992.9h2V1116.3h-2ZM1820 1068.8h2V1105.1h-2ZM1825 1071.2h2V1096.5h-2ZM1831 1090.2h2V1135.3h-2ZM1842 1012.8h2V1116.3h-2ZM1854 1007.1h2V1093.9h-2ZM1860 1047.5h2V1115.2h-2ZM1865 1087.8h2V1128.2h-2ZM1871 1106.8h2V1131.3h-2ZM1877 1109.2h2V1145.5h-2ZM1882 1116.3h2V1154.4h-2ZM1894 1136.7h2V1155.2h-2ZM1900 1138.6h2V1187.5h-2ZM1911 1111.6h2V1178.1h-2ZM1917 1151.9h2V1196.9h-2ZM1922 1197.0h2V1247.2h-2ZM1945 1136.2h2V1179.2h-2ZM1951 1140.0h2V1208.8h-2ZM1957 1175.6h2V1201.8h-2ZM1962 1163.8h2V1200.4h-2ZM1968 1211.2h2V1242.4h-2ZM1974 1217.4h2V1256.3h-2ZM1985 1182.7h2V1245.4h-2ZM1991 1180.4h2V1249.2h-2ZM1997 1144.8h2V1213.4h-2ZM2002 1144.8h2V1224.8h-2ZM2008 1211.2h2V1234.1h-2ZM2014 1207.9h2V1285.7h-2ZM2025 1136.2h2V1223.9h-2ZM2031 1204.1h2V1240.5h-2ZM2036 1226.9h2V1246.7h-2ZM2042 1223.1h2V1246.8h-2ZM2048 1223.1h2V1246.8h-2ZM2059 1204.1h2V1235.0h-2ZM2065 1103.0h2V1245.5h-2ZM2071 1206.5h2V1250.0h-2ZM2076 1235.0h2V1262.3h-2ZM2082 1251.6h2V1262.1h-2ZM2088 1256.3h2V1267.8h-2ZM2093 1261.1h2V1276.6h-2ZM2099 1230.2h2V1290.7h-2ZM2105 1265.8h2V1300.3h-2ZM2116 1206.5h2V1275.3h-2ZM2122 1195.5h2V1316.2h-2ZM2133 1152.8h2V1227.8h-2ZM2139 1097.3h2V1224.6h-2ZM2145 1199.3h2V1301.1h-2ZM2168 1105.8h2V1237.3h-2ZM2179 1219.3h2V1237.3h-2ZM2190 1169.9h2V1227.8h-2ZM2196 1176.6h2V1225.4h-2ZM2202 1187.5h2V1220.7h-2ZM2225 1199.3h2V1222.4h-2ZM2230 1201.7h2V1229.6h-2ZM2236 1215.9h2V1238.3h-2ZM2248 1173.2h2V1215.4h-2ZM2253 1127.2h2V1218.3h-2ZM2259 1201.7h2V1226.1h-2ZM2265 1189.8h2V1223.1h-2ZM2270 1208.8h2V1224.0h-2ZM2282 1209.8h2V1230.6h-2ZM2293 1184.1h2V1228.4h-2ZM2299 1215.9h2V1241.1h-2ZM2305 1223.1h2V1270.6h-2ZM2310 1234.9h2V1272.9h-2ZM2316 1244.4h2V1282.4h-2ZM2322 1256.3h2V1283.8h-2ZM2333 1237.3h2V1280.0h-2ZM2339 1251.5h2V1294.3h-2ZM2344 1246.8h2V1303.7h-2ZM2350 1294.3h2V1320.7h-2ZM2362 1225.4h2V1336.0h-2ZM2379 1254.9h2V1309.2h-2ZM2390 1162.8h2V1242.1h-2ZM2396 1226.9h2V1260.1h-2ZM2402 1232.6h2V1260.1h-2ZM2407 1242.1h2V1261.0h-2ZM2413 1260.1h2V1274.4h-2ZM2419 1265.8h2V1279.1h-2ZM2441 1178.5h2V1270.6h-2ZM2447 1265.8h2V1287.1h-2ZM2453 1257.2h2V1290.5h-2ZM2459 1268.2h2V1295.2h-2ZM2464 1277.6h2V1311.1h-2ZM2470 1289.5h2V1338.0h-2ZM2476 1288.1h2V1377.8h-2ZM2481 1365.4h2V1389.2h-2ZM2493 1309.9h2V1391.6h-2ZM2499 1337.9h2V1401.0h-2ZM2504 1306.1h2V1413.9h-2ZM2510 1370.2h2V1391.6h-2ZM2533 1269.6h2V1337.7h-2ZM2538 1327.5h2V1337.0h-2ZM2544 1317.0h2V1363.1h-2ZM2556 1298.1h2V1337.0h-2ZM2561 1284.8h2V1360.7h-2ZM2567 1346.5h2V1392.4h-2ZM2578 1342.7h2V1374.9h-2ZM2584 1329.9h2V1374.9h-2ZM2590 1277.6h2V1370.2h-2ZM2595 1334.6h2V1353.6h-2ZM2601 1314.2h2V1352.9h-2ZM2607 1332.2h2V1351.2h-2ZM2618 1256.3h2V1370.2h-2ZM2624 1346.5h2V1374.9h-2ZM2630 1348.8h2V1403.4h-2ZM2641 1352.2h2V1392.9h-2ZM2647 1292.8h2V1388.2h-2ZM2653 1365.4h2V1395.0h-2ZM2658 1351.2h2V1446.8h-2ZM2670 1388.2h2V1439.4h-2ZM2675 1412.9h2V1474.6h-2ZM2681 1417.7h2V1479.4h-2ZM2687 1421.5h2V1473.7h-2ZM2692 1448.5h2V1474.6h-2ZM2698 1436.6h2V1470.9h-2ZM2704 1427.1h2V1474.4h-2ZM2721 1293.3h2V1363.3h-2ZM2738 1367.8h2V1410.5h-2ZM2755 1377.3h2V1415.3h-2ZM2761 1398.7h2V1429.5h-2ZM2767 1417.7h2V1438.4h-2ZM2795 1365.4h2V1377.3h-2ZM2807 1370.2h2V1380.7h-2ZM2824 1370.2h2V1397.3h-2ZM2829 1390.2h2V1402.0h-2ZM2841 1386.9h2V1406.8h-2ZM2864 1405.4h2V1440.4h-2ZM2886 1335.6h2V1428.1h-2ZM2892 1413.9h2V1428.7h-2ZM2898 1364.1h2V1425.8h-2ZM2904 1398.2h2V1437.6h-2ZM2909 1411.5h2V1442.4h-2ZM2915 1404.4h2V1460.5h-2ZM2932 1404.4h2V1475.5h-2ZM2938 1435.3h2V1486.1h-2ZM2943 1438.6h2V1525.4h-2ZM2949 1440.0h2V1521.2h-2ZM2955 1478.0h2V1543.0h-2ZM2961 1523.1h2V1553.9h-2ZM2966 1504.1h2V1560.1h-2ZM2972 1469.9h2V1582.4h-2ZM2978 1525.4h2V1618.0h-2ZM2983 1546.8h2V1670.2h-2ZM2989 1615.6h2V1684.4h-2ZM2995 1601.4h2V1717.7h-2ZM3001 1639.3h2V1773.7h-2ZM3006 1693.0h2V1762.7h-2ZM3012 1710.5h2V1758.0h-2ZM3018 1712.9h2V1739.4h-2ZM3023 1674.9h2V1805.3h-2ZM3029 1715.3h2V1811.6h-2ZM3035 1729.5h2V1784.1h-2ZM3040 1675.9h2V1765.1h-2ZM3046 1729.5h2V1771.6h-2ZM3052 1739.0h2V1777.2h-2ZM3058 1710.5h2V1798.3h-2ZM3063 1758.0h2V1804.6h-2ZM3069 1781.7h2V1869.5h-2ZM3075 1822.1h2V1888.5h-2ZM3080 1836.3h2V1886.1h-2ZM3086 1850.5h2V1874.3h-2ZM3092 1850.5h2V1871.9h-2ZM3097 1815.0h2V1874.3h-2ZM3103 1824.4h2V1845.8h-2ZM3109 1796.0h2V1836.3h-2ZM3115 1779.4h2V1836.3h-2ZM3120 1815.0h2V1848.2h-2ZM3126 1810.2h2V1848.2h-2ZM3132 1793.6h2V1845.8h-2ZM3137 1779.4h2V1831.6h-2ZM3143 1731.9h2V1826.8h-2ZM3149 1793.6h2V1833.9h-2ZM3155 1777.0h2V1829.2h-2ZM3160 1781.7h2V1862.4h-2ZM3166 1781.7h2V1850.5h-2ZM3172 1807.8h2V1850.5h-2ZM3177 1822.1h2V1864.8h-2ZM3183 1836.3h2V1879.0h-2ZM3189 1833.9h2V1862.4h-2ZM3194 1804.5h2V1852.9h-2ZM3200 1810.2h2V1852.9h-2ZM3206 1803.1h2V1845.8h-2ZM3212 1807.8h2V1845.8h-2ZM3217 1781.7h2V1812.6h-2ZM3223 1748.5h2V1793.6h-2ZM3229 1744.7h2V1796.0h-2ZM3234 1758.0h2V1791.2h-2ZM3240 1727.1h2V1764.2h-2ZM3252 1652.6h2V1724.8h-2ZM3257 1686.8h2V1735.7h-2ZM3263 1674.9h2V1717.7h-2ZM3269 1658.3h2V1717.7h-2ZM3274 1679.7h2V1712.9h-2ZM3280 1689.2h2V1743.8h-2ZM3286 1690.1h2V1735.7h-2ZM3291 1689.2h2V1734.3h-2ZM3297 1658.3h2V1731.9h-2ZM3303 1607.5h2V1653.6h-2ZM3314 1553.9h2V1587.1h-2ZM3320 1558.7h2V1615.6h-2ZM3326 1542.1h2V1603.7h-2ZM3331 1526.9h2V1620.4h-2ZM3337 1499.3h2V1558.4h-2ZM3343 1500.3h2V1553.9h-2ZM3348 1518.3h2V1580.0h-2ZM3354 1551.5h2V1606.1h-2ZM3360 1556.3h2V1592.3h-2ZM3366 1580.0h2V1632.2h-2ZM3371 1564.8h2V1634.6h-2ZM3377 1599.0h2V1627.5h-2ZM3383 1580.0h2V1629.9h-2ZM3388 1572.0h2V1627.5h-2ZM3394 1588.6h2V1634.6h-2ZM3400 1587.1h2V1644.1h-2ZM3406 1653.6h2V1704.4h-2ZM3411 1793.6h2V1850.5h-2ZM3417 1793.6h2V1836.3h-2ZM3423 1786.5h2V1836.3h-2ZM3428 1798.3h2V1838.7h-2ZM3434 1796.0h2V1841.1h-2ZM3440 1779.4h2V1825.2h-2ZM3445 1779.4h2V1833.9h-2ZM3451 1788.8h2V1841.1h-2ZM3457 1791.2h2V1836.3h-2ZM3463 1781.7h2V1831.6h-2ZM3468 1784.1h2V1837.1h-2ZM3474 1773.2h2V1831.9h-2ZM3480 1793.6h2V1824.4h-2ZM3485 1772.2h2V1826.8h-2ZM3491 1803.1h2V1823.3h-2ZM3497 1729.5h2V1830.5h-2ZM3503 1789.2h2V1856.2h-2ZM3508 1803.4h2V1853.7h-2ZM3514 1810.5h2V1859.4h-2ZM3520 1800.1h2V1848.0h-2ZM3525 1796.3h2V1850.8h-2ZM3531 1802.5h2V1832.6h-2ZM3537 1800.1h2V1818.8h-2ZM3542 1764.5h2V1820.5h-2ZM3548 1772.6h2V1815.5h-2ZM3554 1784.4h2V1818.0h-2ZM3560 1731.3h2V1810.5h-2ZM3565 1765.4h2V1824.8h-2ZM3571 1777.3h2V1806.2h-2ZM3577 1767.8h2V1807.5h-2ZM3582 1765.4h2V1796.2h-2ZM3588 1756.0h2V1800.2h-2ZM3594 1753.6h2V1799.0h-2ZM3599 1745.5h2V1798.3h-2ZM3605 1697.6h2V1770.7h-2ZM3611 1734.6h2V1771.5h-2ZM3617 1721.8h2V1781.8h-2ZM3622 1740.8h2V1787.1h-2ZM3628 1742.7h2V1788.1h-2ZM3634 1737.9h2V1794.4h-2ZM3639 1741.7h2V1797.7h-2ZM3645 1744.1h2V1797.0h-2ZM3651 1705.2h2V1795.0h-2ZM3657 1748.8h2V1801.8h-2ZM3662 1753.6h2V1809.3h-2ZM3668 1763.1h2V1804.0h-2ZM3674 1791.6h2V1852.4h-2ZM3679 1791.6h2V1831.3h-2ZM3685 1797.7h2V1836.0h-2ZM3691 1817.7h2V1836.4h-2ZM3696 1798.7h2V1838.0h-2ZM3702 1796.3h2V1835.6h-2ZM3708 1746.5h2V1839.5h-2ZM3714 1784.4h2V1832.2h-2ZM3719 1803.4h2V1843.7h-2ZM3725 1808.2h2V1831.0h-2ZM3731 1791.6h2V1833.6h-2ZM3736 1789.2h2V1843.0h-2ZM3742 1810.5h2V1843.1h-2ZM3748 1810.5h2V1841.5h-2ZM3753 1793.9h2V1841.2h-2ZM3759 1790.1h2V1834.7h-2ZM3765 1801.0h2V1836.8h-2ZM3771 1791.6h2V1828.5h-2ZM3776 1793.9h2V1819.1h-2ZM3782 1782.1h2V1815.9h-2ZM3788 1769.2h2V1815.5h-2ZM3793 1770.2h2V1823.8h-2ZM3799 1779.7h2V1822.2h-2ZM3805 1772.6h2V1823.0h-2ZM3811 1771.6h2V1809.9h-2ZM3816 1774.9h2V1803.7h-2ZM3822 1758.3h2V1790.9h-2ZM3828 1745.5h2V1781.0h-2ZM3833 1734.6h2V1755.9h-2ZM3839 1696.6h2V1753.5h-2ZM3845 1725.1h2V1756.3h-2ZM3850 1727.5h2V1756.9h-2ZM3856 1694.3h2V1751.3h-2ZM3862 1722.7h2V1764.6h-2ZM3868 1732.2h2V1773.7h-2ZM3873 1668.2h2V1791.6h-2ZM3879 1732.2h2V1773.2h-2ZM3885 1734.6h2V1787.1h-2ZM3890 1739.3h2V1783.9h-2ZM3902 1750.3h2V1789.2h-2ZM3908 1722.7h2V1766.5h-2ZM3913 1708.5h2V1758.9h-2ZM3919 1717.0h2V1753.5h-2ZM3925 1708.5h2V1742.7h-2ZM3930 1695.2h2V1719.6h-2ZM3936 1662.0h2V1716.0h-2ZM3942 1681.0h2V1709.4h-2ZM3947 1677.6h2V1705.1h-2ZM3953 1672.0h2V1707.8h-2ZM3959 1672.9h2V1704.6h-2ZM3965 1680.0h2V1709.5h-2ZM3970 1682.4h2V1725.1h-2ZM3976 1672.0h2V1714.1h-2ZM3982 1675.3h2V1706.9h-2ZM3987 1662.0h2V1700.2h-2ZM3993 1684.8h2V1706.6h-2ZM3999 1670.5h2V1721.7h-2ZM4004 1684.8h2V1744.1h-2ZM4010 1689.5h2V1728.6h-2ZM4016 1677.6h2V1706.4h-2ZM4022 1658.7h2V1697.9h-2ZM4027 1651.5h2V1692.0h-2ZM4033 1625.4h2V1688.0h-2ZM4039 1644.4h2V1683.4h-2ZM4044 1579.4h2V1615.1h-2ZM4050 1579.4h2V1624.9h-2ZM4056 1594.6h2V1632.8h-2ZM4062 1611.2h2V1634.7h-2ZM4067 1599.3h2V1628.8h-2ZM4073 1595.5h2V1623.1h-2ZM4079 1588.4h2V1618.7h-2ZM4084 1570.9h2V1610.8h-2ZM4090 1550.9h2V1608.3h-2ZM4096 1540.0h2V1607.1h-2ZM4101 1571.8h2V1598.2h-2ZM4107 1560.8h2V1636.7h-2ZM4113 1587.5h2V1628.8h-2ZM4119 1605.5h2V1636.3h-2ZM4124 1698.4h2V1736.4h-2ZM4130 1681.0h2V1734.8h-2ZM4136 1693.7h2V1731.6h-2ZM4141 1681.0h2V1733.2h-2ZM4147 1684.8h2V1738.6h-2ZM4153 1693.7h2V1731.6h-2ZM4159 1674.1h2V1720.6h-2ZM4164 1680.4h2V1728.5h-2ZM4170 1681.0h2V1722.2h-2ZM4176 1668.4h2V1711.1h-2ZM4181 1663.0h2V1706.3h-2ZM4193 1678.8h2V1730.1h-2ZM4198 1683.5h2V1733.2h-2ZM4204 1698.4h2V1742.7h-2ZM4210 1705.7h2V1750.6h-2ZM4216 1710.1h2V1744.3h-2ZM4221 1707.9h2V1753.8h-2ZM4227 1698.4h2V1749.1h-2ZM4233 1702.5h2V1741.1h-2ZM4238 1646.2h2V1687.3h-2ZM4244 1658.9h2V1684.2h-2ZM4250 1643.7h2V1688.9h-2ZM4255 1645.3h2V1685.8h-2ZM4261 1647.8h2V1686.7h-2Z" fill="#f23645"/><path d="M61 884.8H67V887.0H61ZM78 851.1H84V870.9H78ZM84 860.6H89V866.1H84ZM106 819.0H112V859.8H106ZM112 729.3H118V780.7H112ZM158 760.1H164V764.9H158ZM164 728.2H169V740.8H164ZM175 663.6H181V692.1H175ZM203 630.4H209V642.2H203ZM232 635.1H238V654.1H232ZM506 658.8H511V664.5H506ZM523 647.0H529V649.3H523ZM808 833.8H814V837.1H808ZM1076 856.1H1082V863.2H1076ZM1190 991.4H1196V1004.7H1190ZM1196 989.0H1202V996.1H1196ZM1207 974.8H1213V993.8H1207ZM1213 953.4H1219V977.1H1213ZM1219 953.4H1225V962.9H1219ZM1236 940.6H1242V962.0H1236ZM1253 882.2H1259V910.7H1253ZM1293 887.9H1299V922.6H1293ZM1299 877.5H1304V889.3H1299ZM1304 872.7H1310V882.2H1304ZM1310 872.7H1316V879.9H1310ZM1322 863.2H1327V881.3H1322ZM1356 846.6H1361V860.9H1356ZM1361 831.0H1367V849.0H1361ZM1390 834.8H1396V844.3H1390ZM1396 820.5H1401V834.8H1396ZM1407 831.5H1413V841.0H1407ZM1413 825.4H1419V833.9H1413ZM1430 830.1H1436V832.0H1430ZM1436 833.9H1441V838.7H1436ZM1498 883.7H1504V900.4H1498ZM1504 883.7H1510V890.9H1504ZM1544 845.8H1550V860.0H1544ZM1578 864.8H1584V879.0H1578ZM1590 862.4H1595V871.9H1590ZM1607 881.4H1612V890.9H1607ZM1624 895.6H1630V900.4H1624ZM1641 909.8H1647V921.7H1641ZM1647 912.2H1652V919.3H1647ZM1727 1002.4H1732V1007.1H1727ZM1835 1079.3H1841V1090.2H1835ZM1846 1094.0H1852V1099.7H1846ZM1886 1147.1H1892V1151.9H1886ZM1903 1149.5H1909V1170.9H1903ZM1926 1230.2H1932V1244.4H1926ZM1932 1225.5H1938V1235.0H1932ZM1938 1216.0H1943V1230.2H1938ZM1978 1218.3H1983V1237.3H1978ZM2017 1226.9H2023V1256.3H2017ZM2052 1225.5H2057V1237.3H2052ZM2109 1249.2H2114V1289.5H2109ZM2126 1174.7H2132V1187.5H2126ZM2149 1227.8H2154V1265.8H2149ZM2154 1212.6H2160V1225.4H2154ZM2160 1208.8H2166V1213.6H2160ZM2172 1232.6H2177V1237.3H2172ZM2183 1211.2H2189V1225.4H2183ZM2206 1215.9H2211V1218.3H2206ZM2211 1200.3H2217V1220.7H2211ZM2217 1215.9H2223V1220.7H2217ZM2240 1220.7H2246V1232.6H2240ZM2274 1219.3H2280V1222.1H2274ZM2286 1219.3H2291V1224.0H2286ZM2326 1265.8H2331V1280.0H2326ZM2354 1310.9H2360V1313.2H2354ZM2365 1280.0H2371V1284.8H2365ZM2371 1280.0H2377V1284.8H2371ZM2383 1262.0H2388V1288.6H2383ZM2423 1260.1H2428V1272.9H2423ZM2428 1258.7H2434V1265.8H2428ZM2434 1258.7H2440V1264.8H2434ZM2485 1367.8H2491V1372.6H2485ZM2514 1371.1H2519V1379.7H2514ZM2519 1367.8H2525V1378.7H2519ZM2525 1321.8H2531V1377.3H2525ZM2548 1321.3H2554V1358.3H2548ZM2571 1356.0H2577V1388.2H2571ZM2611 1336.0H2616V1345.5H2611ZM2634 1367.8H2639V1389.2H2634ZM2662 1401.0H2668V1449.9H2662ZM2708 1422.4H2713V1480.3H2708ZM2713 1339.3H2719V1429.5H2713ZM2725 1364.0H2731V1369.2H2725ZM2731 1340.8H2736V1353.6H2731ZM2742 1372.6H2748V1377.3H2742ZM2748 1374.0H2753V1375.9H2748ZM2770 1393.9H2776V1398.7H2770ZM2776 1366.9H2782V1396.3H2776ZM2782 1372.6H2788V1377.3H2782ZM2788 1372.6H2793V1377.3H2788ZM2799 1370.2H2805V1375.9H2799ZM2810 1394.9H2816V1397.3H2810ZM2816 1368.8H2822V1373.6H2816ZM2833 1390.2H2839V1394.0H2833ZM2845 1386.4H2850V1394.9H2845ZM2850 1384.5H2856V1394.9H2850ZM2856 1402.0H2862V1405.4H2856ZM2867 1424.8H2873V1436.7H2867ZM2873 1421.0H2879V1424.3H2873ZM2879 1413.9H2885V1423.4H2879ZM2919 1451.9H2924V1454.2H2919ZM2924 1450.9H2930V1454.2H2924ZM3244 1669.2H3250V1683.5H3244ZM3307 1587.1H3312V1589.5H3307ZM3894 1781.1H3900V1783.5H3894ZM4185 1715.2H4191V1743.7H4185ZM63 884.8h2V905.5h-2ZM80 847.2h2V881.2h-2ZM86 838.9h2V868.0h-2ZM108 819.0h2V871.7h-2ZM114 729.3h2V783.3h-2ZM160 746.4h2V773.6h-2ZM165 728.2h2V768.8h-2ZM177 663.6h2V692.4h-2ZM205 630.4h2V656.5h-2ZM234 635.1h2V655.1h-2ZM508 630.4h2V667.2h-2ZM525 643.6h2V661.2h-2ZM810 830.0h2V850.0h-2ZM1078 856.1h2V902.2h-2ZM1192 991.4h2V1005.2h-2ZM1198 977.1h2V997.1h-2ZM1209 974.8h2V996.4h-2ZM1215 928.7h2V978.4h-2ZM1221 943.9h2V964.2h-2ZM1238 933.5h2V963.1h-2ZM1255 882.2h2V912.2h-2ZM1295 887.9h2V924.5h-2ZM1301 863.2h2V890.9h-2ZM1306 856.1h2V883.8h-2ZM1312 858.5h2V880.9h-2ZM1323 863.2h2V884.2h-2ZM1358 846.6h2V861.8h-2ZM1363 831.0h2V851.6h-2ZM1392 830.0h2V853.7h-2ZM1398 805.3h2V837.2h-2ZM1409 819.7h2V850.5h-2ZM1415 814.9h2V836.6h-2ZM1432 822.0h2V838.7h-2ZM1437 795.9h2V848.1h-2ZM1500 871.9h2V907.5h-2ZM1506 869.5h2V898.0h-2ZM1546 845.8h2V860.9h-2ZM1580 833.9h2V881.2h-2ZM1591 833.9h2V876.6h-2ZM1609 838.7h2V898.0h-2ZM1626 874.2h2V905.1h-2ZM1643 909.8h2V924.1h-2ZM1649 862.4h2V921.7h-2ZM1728 985.8h2V1009.5h-2ZM1837 1079.3h2V1130.5h-2ZM1848 1094.0h2V1100.4h-2ZM1888 1118.7h2V1168.5h-2ZM1905 1149.5h2V1171.3h-2ZM1928 1216.0h2V1268.2h-2ZM1934 1206.5h2V1244.4h-2ZM1939 1216.0h2V1253.9h-2ZM1979 1218.3h2V1246.8h-2ZM2019 1226.9h2V1282.4h-2ZM2054 1225.5h2V1240.0h-2ZM2111 1249.2h2V1290.8h-2ZM2128 1139.1h2V1194.6h-2ZM2151 1227.8h2V1294.3h-2ZM2156 1206.5h2V1230.2h-2ZM2162 1178.0h2V1220.7h-2ZM2173 1232.6h2V1242.1h-2ZM2185 1182.7h2V1225.5h-2ZM2208 1187.5h2V1220.7h-2ZM2213 1200.3h2V1225.4h-2ZM2219 1187.5h2V1223.1h-2ZM2242 1187.5h2V1235.4h-2ZM2276 1214.5h2V1224.0h-2ZM2287 1178.9h2V1224.4h-2ZM2327 1255.3h2V1281.5h-2ZM2356 1284.8h2V1321.8h-2ZM2367 1268.2h2V1299.0h-2ZM2373 1264.8h2V1287.1h-2ZM2384 1262.0h2V1308.5h-2ZM2424 1260.1h2V1273.1h-2ZM2430 1253.9h2V1268.2h-2ZM2436 1226.9h2V1268.2h-2ZM2487 1355.0h2V1382.1h-2ZM2516 1371.1h2V1381.1h-2ZM2521 1347.9h2V1399.6h-2ZM2527 1321.8h2V1379.8h-2ZM2550 1321.3h2V1358.5h-2ZM2573 1351.2h2V1390.1h-2ZM2613 1336.0h2V1350.3h-2ZM2635 1367.8h2V1404.4h-2ZM2664 1394.9h2V1453.3h-2ZM2710 1422.4h2V1480.6h-2ZM2715 1339.3h2V1429.6h-2ZM2727 1344.1h2V1424.8h-2ZM2732 1324.2h2V1355.5h-2ZM2744 1367.8h2V1379.7h-2ZM2750 1372.6h2V1377.3h-2ZM2772 1393.9h2V1403.4h-2ZM2778 1366.9h2V1404.4h-2ZM2784 1362.1h2V1383.5h-2ZM2789 1367.8h2V1382.1h-2ZM2801 1370.2h2V1377.0h-2ZM2812 1371.2h2V1434.3h-2ZM2818 1366.4h2V1387.8h-2ZM2835 1390.2h2V1397.3h-2ZM2846 1386.4h2V1402.0h-2ZM2852 1384.5h2V1406.8h-2ZM2858 1402.0h2V1411.5h-2ZM2869 1412.5h2V1438.8h-2ZM2875 1418.7h2V1427.2h-2ZM2881 1413.9h2V1430.5h-2ZM2921 1435.3h2V1459.0h-2ZM2926 1365.0h2V1463.7h-2ZM3246 1669.2h2V1717.7h-2ZM3309 1586.2h2V1618.0h-2ZM3896 1781.1h2V1791.6h-2ZM4187 1703.2h2V1744.2h-2Z" fill="#089981"/><path d="M32.6 791.6C37.5 792.0 49.3 793.2 61.9 794.2C74.5 795.2 94.0 797.3 108.0 797.5C122.0 797.7 132.5 796.5 145.8 795.4C159.1 794.3 173.7 792.3 187.7 790.8C201.7 789.3 215.6 787.5 229.6 786.2C243.6 784.9 256.2 783.7 271.6 782.8C287.0 781.9 304.4 781.8 321.9 780.7C339.4 779.7 359.6 778.0 376.4 776.5C393.2 775.0 405.0 773.0 422.5 771.5C440.0 770.0 460.9 769.0 481.2 767.7C501.5 766.4 523.1 764.9 544.1 763.5C565.1 762.1 586.0 760.4 607.0 759.4C628.0 758.4 651.7 757.9 669.9 757.3C688.1 756.7 704.1 756.1 716.0 756.0C727.9 755.9 731.4 755.9 741.2 756.4C751.0 756.9 762.1 758.1 774.7 758.9C787.3 759.7 802.6 760.4 816.6 761.0C830.6 761.6 841.1 761.9 858.6 762.3C876.1 762.6 904.0 763.3 921.5 763.1C939.0 762.9 949.4 761.6 963.4 761.0C977.4 760.4 990.9 759.7 1005.3 759.4C1019.7 759.1 1033.5 759.2 1050.0 759.1C1066.5 759.0 1087.0 758.5 1104.5 758.9C1122.0 759.3 1135.9 760.3 1154.8 761.8C1173.7 763.3 1200.2 766.2 1217.7 768.1C1235.2 770.0 1244.2 771.2 1259.6 773.1C1275.0 775.0 1292.5 776.9 1310.0 779.4C1327.5 781.9 1344.9 785.1 1364.5 788.2C1384.1 791.3 1409.9 795.3 1427.4 797.9C1444.9 800.5 1455.3 801.5 1469.3 803.7C1483.3 805.9 1497.2 808.6 1511.2 811.3C1525.2 814.0 1539.1 816.9 1553.1 819.7C1567.1 822.5 1581.1 825.2 1595.1 828.1C1609.1 831.0 1623.0 833.8 1637.0 837.3C1651.0 840.8 1664.9 845.3 1678.9 849.0C1692.9 852.7 1706.9 855.9 1720.9 859.5C1734.9 863.1 1748.8 866.8 1762.8 870.8C1776.8 874.8 1790.7 879.0 1804.7 883.4C1818.7 887.8 1832.6 892.8 1846.6 897.2C1860.6 901.6 1874.6 905.5 1888.6 909.8C1902.6 914.1 1916.5 918.7 1930.5 923.2C1944.5 927.8 1958.4 932.4 1972.4 937.1C1986.4 941.9 2000.4 946.8 2014.4 951.7C2028.4 956.6 2042.3 961.6 2056.3 966.4C2070.3 971.2 2083.9 975.9 2098.2 980.5C2112.5 985.1 2127.6 989.6 2141.9 994.0C2156.2 998.4 2169.9 1002.7 2183.9 1007.0C2197.9 1011.3 2211.8 1015.8 2225.8 1020.0C2239.8 1024.2 2253.7 1028.3 2267.7 1032.1C2281.7 1035.9 2295.6 1039.3 2309.6 1043.0C2323.6 1046.7 2337.6 1050.5 2351.6 1054.3C2365.6 1058.1 2379.5 1062.0 2393.5 1066.1C2407.5 1070.2 2423.5 1074.9 2435.4 1078.7C2447.3 1082.5 2454.3 1084.8 2464.8 1089.1C2475.3 1093.4 2485.7 1098.8 2498.3 1104.7C2510.9 1110.6 2526.3 1118.0 2540.3 1124.4C2554.3 1130.8 2568.2 1137.1 2582.2 1143.2C2596.2 1149.3 2610.1 1155.2 2624.1 1161.3C2638.1 1167.4 2652.0 1173.5 2666.0 1180.1C2680.0 1186.7 2694.0 1194.4 2708.0 1201.1C2722.0 1207.8 2735.9 1213.8 2749.9 1220.0C2763.9 1226.2 2777.8 1232.4 2791.8 1238.0C2805.8 1243.6 2819.8 1248.3 2833.8 1253.5C2847.8 1258.7 2861.7 1264.0 2875.7 1269.0C2889.7 1274.0 2903.6 1278.9 2917.6 1283.7C2931.6 1288.5 2948.3 1293.9 2959.5 1297.9C2970.7 1302.0 2975.6 1303.5 2984.7 1308.0C2993.8 1312.5 3004.2 1319.5 3014.0 1324.8C3023.8 1330.0 3031.5 1333.2 3043.4 1339.5C3055.3 1345.8 3071.3 1355.0 3085.3 1362.5C3099.3 1370.0 3116.5 1378.4 3127.3 1384.3C3138.1 1390.2 3140.4 1392.2 3150.0 1397.7C3159.6 1403.2 3173.4 1410.8 3185.1 1417.3C3196.8 1423.8 3207.8 1430.8 3220.2 1437.0C3232.6 1443.2 3245.8 1449.0 3259.7 1454.6C3273.6 1460.2 3288.9 1465.9 3303.5 1470.8C3318.1 1475.7 3332.0 1479.2 3347.4 1484.0C3362.8 1488.8 3383.3 1495.2 3395.7 1499.8C3408.1 1504.4 3411.8 1506.7 3422.0 1511.6C3432.2 1516.5 3443.9 1522.9 3457.1 1529.1C3470.2 1535.3 3486.3 1542.0 3500.9 1548.9C3515.5 1555.9 3530.2 1563.6 3544.8 1570.8C3559.4 1578.0 3574.1 1585.1 3588.7 1591.9C3603.3 1598.7 3617.9 1605.6 3632.5 1611.6C3647.1 1617.6 3661.8 1622.1 3676.4 1627.9C3691.0 1633.8 3705.7 1640.6 3720.3 1646.7C3734.9 1652.8 3749.5 1658.9 3764.1 1664.3C3778.7 1669.7 3793.4 1674.7 3808.0 1679.2C3822.6 1683.7 3837.3 1687.3 3851.9 1691.5C3866.5 1695.7 3881.1 1699.8 3895.7 1704.6C3910.3 1709.3 3925.0 1715.2 3939.6 1720.0C3954.2 1724.8 3968.9 1729.1 3983.5 1733.1C3998.1 1737.1 4012.8 1740.9 4027.4 1744.1C4042.0 1747.2 4056.6 1750.1 4071.2 1752.0C4085.8 1753.9 4100.5 1754.9 4115.1 1755.5C4129.7 1756.1 4144.4 1756.2 4159.0 1755.8C4173.6 1755.4 4190.6 1754.2 4202.8 1753.2C4215.0 1752.2 4222.2 1751.2 4232.0 1750.0C4241.8 1748.8 4256.8 1746.8 4261.7 1746.2" stroke="#2962ff" stroke-width="2.3" fill="none" stroke-linejoin="round"/><path d="M2870 1329.5L4040 1756" stroke="#ff9800" stroke-width="1.8" fill="none"/><path d="M22 1684H4316" stroke="#f23645" stroke-width="2" stroke-dasharray="2 4" fill="none"/></g><path d="M4423 2056.5H4563" stroke="#222222" stroke-width="1"/><text x="23" y="44.3" font-size="27" fill="#d6d6d6" font-family="Liberation Sans, sans-serif" textLength="856" lengthAdjust="spacing">ronnie10166 created with TradingView.com, Nov 16, 2025 06:56 UTC</text><text x="41.1" y="102.8" font-size="26.5" fill="#f2f2f2" font-family="Liberation Sans, sans-serif" textLength="68.1" lengthAdjust="spacing">China</text><text x="119" y="102.8" font-size="26.5" fill="#f2f2f2" font-family="Liberation Sans, sans-serif" textLength="150" lengthAdjust="spacing">Government</text><text x="279.3" y="102.8" font-size="26.5" fill="#f2f2f2" font-family="Liberation Sans, sans-serif" textLength="75.1" lengthAdjust="spacing">Bonds</text><text x="362.3" y="102.8" font-size="26.5" fill="#f2f2f2" font-family="Liberation Sans, sans-serif" textLength="28.5" lengthAdjust="spacing">10</text><text x="400" y="102.8" font-size="26.5" fill="#f2f2f2" font-family="Liberation Sans, sans-serif" textLength="34" lengthAdjust="spacing">YR</text><text x="443.5" y="102.8" font-size="26.5" fill="#f2f2f2" font-family="Liberation Sans, sans-serif" textLength="59.5" lengthAdjust="spacing">Yield</text><text x="515.1" y="102.8" font-size="26.5" fill="#f2f2f2" font-family="Liberation Sans, sans-serif" text-anchor="middle">·</text><text x="542.5" y="102.8" font-size="26.5" fill="#f2f2f2" font-family="Liberation Sans, sans-serif" text-anchor="middle">1D</text><text x="571.5" y="102.8" font-size="26.5" fill="#f2f2f2" font-family="Liberation Sans, sans-serif" text-anchor="middle">·</text><text x="582.5" y="102.8" font-size="26.5" fill="#f2f2f2" font-family="Liberation Sans, sans-serif" textLength="49.5" lengthAdjust="spacing">TVC</text><text x="649.6" y="102.8" font-size="26.5" fill="#f2f2f2" font-family="Liberation Sans, sans-serif" textLength="18.3" lengthAdjust="spacing">O</text><text x="670.6" y="102.8" font-size="26.5" fill="#f23645" font-family="Liberation Sans, sans-serif" textLength="89.6" lengthAdjust="spacing">1.845%</text><text x="778.5" y="102.8" font-size="26.5" fill="#f2f2f2" font-family="Liberation Sans, sans-serif" textLength="16.7" lengthAdjust="spacing">H</text><text x="796.7" y="102.8" font-size="26.5" fill="#f23645" font-family="Liberation Sans, sans-serif" textLength="91.7" lengthAdjust="spacing">1.845%</text><text x="905.4" y="102.8" font-size="26.5" fill="#f2f2f2" font-family="Liberation Sans, sans-serif" textLength="12.8" lengthAdjust="spacing">L</text><text x="920.2" y="102.8" font-size="26.5" fill="#f23645" font-family="Liberation Sans, sans-serif" textLength="91.2" lengthAdjust="spacing">1.803%</text><text x="1028" y="102.8" font-size="26.5" fill="#f2f2f2" font-family="Liberation Sans, sans-serif" textLength="16.4" lengthAdjust="spacing">C</text><text x="1046.4" y="102.8" font-size="26.5" fill="#f23645" font-family="Liberation Sans, sans-serif" textLength="89.2" lengthAdjust="spacing">1.807%</text><text x="1153" y="102.8" font-size="26.5" fill="#f23645" font-family="Liberation Sans, sans-serif" textLength="83.6" lengthAdjust="spacing">−0.007</text><text x="1249" y="102.8" font-size="26.5" fill="#f23645" font-family="Liberation Sans, sans-serif" textLength="113" lengthAdjust="spacing">(−0.39%)</text><text x="41.1" y="140" font-size="26.5" fill="#f2f2f2" font-family="Liberation Sans, sans-serif" textLength="55.4" lengthAdjust="spacing">SMA</text><text x="107.6" y="140" font-size="26.5" fill="#f2f2f2" font-family="Liberation Sans, sans-serif" textLength="60.9" lengthAdjust="spacing">(200,</text><text x="179.6" y="140" font-size="26.5" fill="#f2f2f2" font-family="Liberation Sans, sans-serif" textLength="72.8" lengthAdjust="spacing">close)</text><text x="270.6" y="140" font-size="26.5" fill="#2962ff" font-family="Liberation Sans, sans-serif" textLength="88.6" lengthAdjust="spacing">1.739%</text><rect x="4433.5" y="67.5" width="123" height="57" rx="8" fill="#0f0f0f" stroke="#2e2e2e" stroke-width="1.5"/><text x="4454" y="105" font-size="26" fill="#dbdbdb" font-family="Liberation Sans, sans-serif">%</text><text x="4445.5" y="221.0" font-size="26" fill="#dbdbdb" font-family="Liberation Sans, sans-serif" textLength="97" lengthAdjust="spacing">3.400%</text><text x="4445.5" y="313.4100000000001" font-size="26" fill="#dbdbdb" font-family="Liberation Sans, sans-serif" textLength="97" lengthAdjust="spacing">3.300%</text><text x="4445.5" y="405.81999999999977" font-size="26" fill="#dbdbdb" font-family="Liberation Sans, sans-serif" textLength="97" lengthAdjust="spacing">3.200%</text><text x="4445.5" y="498.22999999999985" font-size="26" fill="#dbdbdb" font-family="Liberation Sans, sans-serif" textLength="97" lengthAdjust="spacing">3.100%</text><text x="4445.5" y="590.6399999999999" font-size="26" fill="#dbdbdb" font-family="Liberation Sans, sans-serif" textLength="97" lengthAdjust="spacing">3.000%</text><text x="4445.5" y="683.05" font-size="26" fill="#dbdbdb" font-family="Liberation Sans, sans-serif" textLength="97" lengthAdjust="spacing">2.900%</text><text x="4445.5" y="775.46" font-size="26" fill="#dbdbdb" font-family="Liberation Sans, sans-serif" textLength="97" lengthAdjust="spacing">2.800%</text><text x="4445.5" y="867.8699999999997" font-size="26" fill="#dbdbdb" font-family="Liberation Sans, sans-serif" textLength="97" lengthAdjust="spacing">2.700%</text><text x="4445.5" y="960.2799999999997" font-size="26" fill="#dbdbdb" font-family="Liberation Sans, sans-serif" textLength="97" lengthAdjust="spacing">2.600%</text><text x="4445.5" y="1052.6899999999998" font-size="26" fill="#dbdbdb" font-family="Liberation Sans, sans-serif" textLength="97" lengthAdjust="spacing">2.500%</text><text x="4445.5" y="1145.1" font-size="26" fill="#dbdbdb" font-family="Liberation Sans, sans-serif" textLength="97" lengthAdjust="spacing">2.400%</text><text x="4445.5" y="1237.51" font-size="26" fill="#dbdbdb" font-family="Liberation Sans, sans-serif" textLength="97" lengthAdjust="spacing">2.300%</text><text x="4445.5" y="1329.9199999999998" font-size="26" fill="#dbdbdb" font-family="Liberation Sans, sans-serif" textLength="97" lengthAdjust="spacing">2.200%</text><text x="4445.5" y="1422.33" font-size="26" fill="#dbdbdb" font-family="Liberation Sans, sans-serif" textLength="97" lengthAdjust="spacing">2.100%</text><text x="4445.5" y="1514.74" font-size="26" fill="#dbdbdb" font-family="Liberation Sans, sans-serif" textLength="97" lengthAdjust="spacing">2.000%</text><text x="4445.5" y="1607.15" font-size="26" fill="#dbdbdb" font-family="Liberation Sans, sans-serif" textLength="97" lengthAdjust="spacing">1.900%</text><text x="4445.5" y="1699.56" font-size="26" fill="#dbdbdb" font-family="Liberation Sans, sans-serif" textLength="97" lengthAdjust="spacing">1.800%</text><text x="4445.5" y="1791.97" font-size="26" fill="#dbdbdb" font-family="Liberation Sans, sans-serif" textLength="97" lengthAdjust="spacing">1.700%</text><text x="4445.5" y="1884.3799999999999" font-size="26" fill="#dbdbdb" font-family="Liberation Sans, sans-serif" textLength="97" lengthAdjust="spacing">1.600%</text><text x="4445.5" y="1976.79" font-size="26" fill="#dbdbdb" font-family="Liberation Sans, sans-serif" textLength="97" lengthAdjust="spacing">1.500%</text><rect x="4316" y="1665" width="108" height="38" rx="3" fill="#f23645"/><rect x="4426" y="1665" width="128.7" height="38" rx="3" fill="#f23645"/><rect x="4423.6" y="1665" width="2.2" height="38" fill="#5a1018"/><text x="4326.5" y="1693.3" font-size="26" fill="#ffffff" font-family="Liberation Sans, sans-serif" textLength="87" lengthAdjust="spacing">CN10Y</text><text x="4448" y="1693.3" font-size="26" fill="#ffffff" font-family="Liberation Sans, sans-serif" textLength="95" lengthAdjust="spacing">1.807%</text><rect x="4426" y="1727" width="128.7" height="38" rx="3" fill="#2962ff"/><text x="4448" y="1755.3" font-size="26" fill="#ffffff" font-family="Liberation Sans, sans-serif" textLength="95" lengthAdjust="spacing">1.739%</text><text x="40.25" y="2098.4" font-size="26" fill="#e6e6e6" font-family="Liberation Sans, sans-serif" textLength="47.5" lengthAdjust="spacing">Nov</text><text x="165.35" y="2098.4" font-size="26" fill="#e6e6e6" font-family="Liberation Sans, sans-serif" textLength="47.3" lengthAdjust="spacing">Dec</text><text x="280.6" y="2098.4" font-size="26" fill="#ffffff" font-family="Liberation Sans, sans-serif" font-weight="bold" textLength="68.8" lengthAdjust="spacingAndGlyphs">2023</text><text x="496.8" y="2098.4" font-size="26" fill="#e6e6e6" font-family="Liberation Sans, sans-serif" textLength="46.4" lengthAdjust="spacing">Mar</text><text x="734.5" y="2098.4" font-size="26" fill="#e6e6e6" font-family="Liberation Sans, sans-serif" textLength="50" lengthAdjust="spacing">May</text><text x="851.9000000000001" y="2098.4" font-size="26" fill="#e6e6e6" font-family="Liberation Sans, sans-serif" textLength="43.6" lengthAdjust="spacing">Jun</text><text x="970.5" y="2098.4" font-size="26" fill="#e6e6e6" font-family="Liberation Sans, sans-serif" textLength="35" lengthAdjust="spacing">Jul</text><text x="1084.0" y="2098.4" font-size="26" fill="#e6e6e6" font-family="Liberation Sans, sans-serif" textLength="47" lengthAdjust="spacing">Aug</text><text x="1215.4" y="2098.4" font-size="26" fill="#e6e6e6" font-family="Liberation Sans, sans-serif" textLength="46.6" lengthAdjust="spacing">Sep</text><text x="1426.25" y="2098.4" font-size="26" fill="#e6e6e6" font-family="Liberation Sans, sans-serif" textLength="47.5" lengthAdjust="spacing">Nov</text><text x="1551.6499999999999" y="2098.4" font-size="26" fill="#e6e6e6" font-family="Liberation Sans, sans-serif" textLength="47.3" lengthAdjust="spacing">Dec</text><text x="1661.3999999999999" y="2098.4" font-size="26" fill="#ffffff" font-family="Liberation Sans, sans-serif" font-weight="bold" textLength="68.8" lengthAdjust="spacingAndGlyphs">2024</text><text x="1883.0" y="2098.4" font-size="26" fill="#e6e6e6" font-family="Liberation Sans, sans-serif" textLength="46.4" lengthAdjust="spacing">Mar</text><text x="2005.0" y="2098.4" font-size="26" fill="#e6e6e6" font-family="Liberation Sans, sans-serif" textLength="42" lengthAdjust="spacing">Apr</text><text x="2115.0" y="2098.4" font-size="26" fill="#e6e6e6" font-family="Liberation Sans, sans-serif" textLength="50" lengthAdjust="spacing">May</text><text x="2345.2" y="2098.4" font-size="26" fill="#e6e6e6" font-family="Liberation Sans, sans-serif" textLength="35" lengthAdjust="spacing">Jul</text><text x="2470.5" y="2098.4" font-size="26" fill="#e6e6e6" font-family="Liberation Sans, sans-serif" textLength="47" lengthAdjust="spacing">Aug</text><text x="2595.7" y="2098.4" font-size="26" fill="#e6e6e6" font-family="Liberation Sans, sans-serif" textLength="46.6" lengthAdjust="spacing">Sep</text><text x="2801.05" y="2098.4" font-size="26" fill="#e6e6e6" font-family="Liberation Sans, sans-serif" textLength="47.5" lengthAdjust="spacing">Nov</text><text x="2921.0499999999997" y="2098.4" font-size="26" fill="#e6e6e6" font-family="Liberation Sans, sans-serif" textLength="47.3" lengthAdjust="spacing">Dec</text><text x="3036.1" y="2098.4" font-size="26" fill="#ffffff" font-family="Liberation Sans, sans-serif" font-weight="bold" textLength="68.8" lengthAdjust="spacingAndGlyphs">2025</text><text x="3252.1000000000004" y="2098.4" font-size="26" fill="#e6e6e6" font-family="Liberation Sans, sans-serif" textLength="46.4" lengthAdjust="spacing">Mar</text><text x="3374.0" y="2098.4" font-size="26" fill="#e6e6e6" font-family="Liberation Sans, sans-serif" textLength="42" lengthAdjust="spacing">Apr</text><text x="3489.7" y="2098.4" font-size="26" fill="#e6e6e6" font-family="Liberation Sans, sans-serif" textLength="50" lengthAdjust="spacing">May</text><text x="3720.2" y="2098.4" font-size="26" fill="#e6e6e6" font-family="Liberation Sans, sans-serif" textLength="35" lengthAdjust="spacing">Jul</text><text x="3845.2" y="2098.4" font-size="26" fill="#e6e6e6" font-family="Liberation Sans, sans-serif" textLength="47" lengthAdjust="spacing">Aug</text><text x="3964.8999999999996" y="2098.4" font-size="26" fill="#e6e6e6" font-family="Liberation Sans, sans-serif" textLength="46.6" lengthAdjust="spacing">Sep</text><text x="4187.25" y="2098.4" font-size="26" fill="#e6e6e6" font-family="Liberation Sans, sans-serif" textLength="47.5" lengthAdjust="spacing">Nov</text><text x="4301.35" y="2098.4" font-size="26" fill="#e6e6e6" font-family="Liberation Sans, sans-serif" textLength="47.3" lengthAdjust="spacing">Dec</text><path d="M26.1 2166.2H52.7V2199.8H39.1V2179.7H26.1Z" fill="#d9d9d9"/><circle cx="63.6" cy="2172.9" r="6.6" fill="#d9d9d9"/><path d="M76.3 2166.2H92.1L79.9 2199.8H63.6Z" fill="#d9d9d9"/><path d="M107.6 2166.1H132.1V2173.0H107.6ZM116.3 2166.1H123.2V2199.8H116.3ZM131.8 2178.0H138.6V2199.8H131.8ZM164.4 2178.0H171.2V2199.8H164.4ZM192.9 2166.1H199.8V2199.8H192.9ZM204.1 2178.0H210.9V2199.8H204.1ZM215.8 2178.0H222.6V2199.8H215.8ZM301.6 2178.0H308.5V2199.8H301.6ZM264.7 2166.1H272.8L282.3 2189.3L291.8 2166.1H300L286.2 2199.8H278.5Z" fill="#d9d9d9"/><circle cx="207.5" cy="2170.1" r="4.3" fill="#d9d9d9"/><circle cx="305.1" cy="2170.1" r="4.3" fill="#d9d9d9"/><path d="M135.2 2199.8V2190.5A9 9 0 0 1 144.2 2181.5H146.5M219.2 2199.8V2189.2A7.3 7.7 0 0 1 233.8 2189.2V2199.8M262.9 2178V2198.5Q262.9 2206.4 254.3 2206.4Q248.3 2206.4 244.6 2202.3" fill="none" stroke="#d9d9d9" stroke-width="6.9"/><path d="M150.4 2188.9a9.2 8.5 0 1 0 18.4 0a9.2 8.5 0 1 0 -18.4 0ZM178.3 2188.9a9.2 8.5 0 1 0 18.4 0a9.2 8.5 0 1 0 -18.4 0ZM244.8 2188.9a9.2 8.5 0 1 0 18.4 0a9.2 8.5 0 1 0 -18.4 0ZM333.59999999999997 2188.9A9.4 8.5 0 1 0 331.6 2194.1" fill="none" stroke="#d9d9d9" stroke-width="6.0"/><path d="M314.8 2189.6H336.59999999999997" fill="none" stroke="#d9d9d9" stroke-width="4.5"/><clipPath id="cw"><rect x="330" y="2178.0" width="50" height="21.800000000000182"/></clipPath><path clip-path="url(#cw)" d="M337.5 2173.6L346.7 2199.8L354.4 2178L362.1 2199.8L371.3 2173.6" fill="none" stroke="#d9d9d9" stroke-width="6.9" stroke-linejoin="miter" stroke-miterlimit="10"/></svg>
</body></html>
